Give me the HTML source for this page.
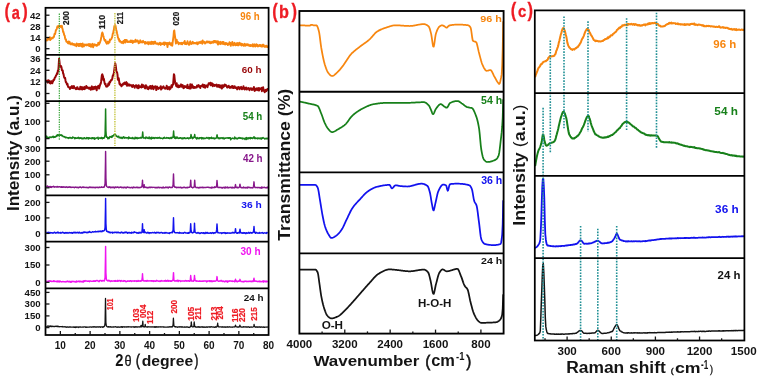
<!DOCTYPE html>
<html><head><meta charset="utf-8"><style>html,body{margin:0;padding:0;background:#fff;}svg{display:block;will-change:transform;}text{font-family:"Liberation Sans",sans-serif;}</style></head><body>
<svg width="759" height="376" viewBox="0 0 759 376" font-family="Liberation Sans, sans-serif">
<rect width="759" height="376" fill="#fff"/>
<g fill="none" stroke-linejoin="round">
<path d="M46.30,39.45 L46.70,40.54 L47.10,40.37 L47.50,38.84 L47.90,38.96 L48.30,38.70 L48.70,39.57 L49.10,38.96 L49.50,39.56 L49.90,37.26 L50.30,40.05 L50.70,38.52 L51.10,39.05 L51.50,38.20 L51.90,37.82 L52.30,38.34 L52.70,38.41 L53.10,37.26 L53.50,36.98 L53.90,37.09 L54.30,34.92 L54.70,33.42 L55.10,34.11 L55.50,32.19 L55.90,30.03 L56.30,29.86 L56.70,29.10 L57.10,27.56 L57.50,26.33 L57.90,26.82 L58.30,27.23 L58.70,26.16 L59.10,25.64 L59.50,26.55 L59.90,26.81 L60.30,25.95 L60.70,26.69 L61.10,27.15 L61.50,26.16 L61.90,25.80 L62.30,28.04 L62.70,29.47 L63.10,32.01 L63.50,31.89 L63.90,34.10 L64.30,35.23 L64.70,35.63 L65.10,38.26 L65.50,39.51 L65.90,39.20 L66.30,41.65 L66.70,41.75 L67.10,42.10 L67.50,42.34 L67.90,43.15 L68.30,41.45 L68.70,43.33 L69.10,43.53 L69.50,41.70 L69.90,43.67 L70.30,43.32 L70.70,44.33 L71.10,43.41 L71.50,43.87 L71.90,44.27 L72.30,43.32 L72.70,44.65 L73.10,44.13 L73.50,44.71 L73.90,43.92 L74.30,45.35 L74.70,45.01 L75.10,44.40 L75.50,45.15 L75.90,45.74 L76.30,46.24 L76.70,43.43 L77.10,45.56 L77.50,45.25 L77.90,44.81 L78.30,44.07 L78.70,46.02 L79.10,43.90 L79.50,45.47 L79.90,46.10 L80.30,43.65 L80.70,44.76 L81.10,43.91 L81.50,45.23 L81.90,46.32 L82.30,46.76 L82.70,43.53 L83.10,44.56 L83.50,45.65 L83.90,46.40 L84.30,45.42 L84.70,44.44 L85.10,45.33 L85.50,45.06 L85.90,44.91 L86.30,44.46 L86.70,45.42 L87.10,45.35 L87.50,45.01 L87.90,44.91 L88.30,44.00 L88.70,44.68 L89.10,46.12 L89.50,44.94 L89.90,43.88 L90.30,46.23 L90.70,45.55 L91.10,46.89 L91.50,45.15 L91.90,44.70 L92.30,43.85 L92.70,46.20 L93.10,47.25 L93.50,44.36 L93.90,44.49 L94.30,45.54 L94.70,44.31 L95.10,44.77 L95.50,44.68 L95.90,45.13 L96.30,45.87 L96.70,44.94 L97.10,45.67 L97.50,44.47 L97.90,44.98 L98.30,42.70 L98.70,43.04 L99.10,44.65 L99.50,42.99 L99.90,42.82 L100.30,41.28 L100.70,40.44 L101.10,38.07 L101.50,36.21 L101.90,33.65 L102.30,32.51 L102.70,33.31 L103.10,35.28 L103.50,36.34 L103.90,38.00 L104.30,39.48 L104.70,40.70 L105.10,40.85 L105.50,40.06 L105.90,42.13 L106.30,42.78 L106.70,43.76 L107.10,43.38 L107.50,42.09 L107.90,41.58 L108.30,43.42 L108.70,41.96 L109.10,42.52 L109.50,42.42 L109.90,39.51 L110.30,40.10 L110.70,39.70 L111.10,39.29 L111.50,38.68 L111.90,37.67 L112.30,36.67 L112.70,33.83 L113.10,33.29 L113.50,31.06 L113.90,29.59 L114.30,26.49 L114.70,25.39 L115.10,25.05 L115.50,25.77 L115.90,27.84 L116.30,29.91 L116.70,31.32 L117.10,33.47 L117.50,35.04 L117.90,37.32 L118.30,38.16 L118.70,39.69 L119.10,38.99 L119.50,41.62 L119.90,40.76 L120.30,41.13 L120.70,41.90 L121.10,41.85 L121.50,42.76 L121.90,42.11 L122.30,41.65 L122.70,41.69 L123.10,43.29 L123.50,41.94 L123.90,40.63 L124.30,41.40 L124.70,39.92 L125.10,42.72 L125.50,39.91 L125.90,41.61 L126.30,41.67 L126.70,39.99 L127.10,41.48 L127.50,42.09 L127.90,41.65 L128.30,41.49 L128.70,42.09 L129.10,41.43 L129.50,41.60 L129.90,41.22 L130.30,41.89 L130.70,40.57 L131.10,42.06 L131.50,40.98 L131.90,40.51 L132.30,41.77 L132.70,42.92 L133.10,42.32 L133.50,41.08 L133.90,42.14 L134.30,41.18 L134.70,41.48 L135.10,41.68 L135.50,39.66 L135.90,41.81 L136.30,40.79 L136.70,41.10 L137.10,40.46 L137.50,40.45 L137.90,40.96 L138.30,42.49 L138.70,43.23 L139.10,41.82 L139.50,42.80 L139.90,41.68 L140.30,40.30 L140.70,42.09 L141.10,42.37 L141.50,41.65 L141.90,42.30 L142.30,42.56 L142.70,41.37 L143.10,40.88 L143.50,41.98 L143.90,42.02 L144.30,41.93 L144.70,43.11 L145.10,43.77 L145.50,41.98 L145.90,42.96 L146.30,43.20 L146.70,43.04 L147.10,43.35 L147.50,42.16 L147.90,43.16 L148.30,44.28 L148.70,43.28 L149.10,42.10 L149.50,43.18 L149.90,43.76 L150.30,43.04 L150.70,42.28 L151.10,44.11 L151.50,41.77 L151.90,43.30 L152.30,42.90 L152.70,41.93 L153.10,44.03 L153.50,43.33 L153.90,42.08 L154.30,43.62 L154.70,42.79 L155.10,41.58 L155.50,42.65 L155.90,43.50 L156.30,43.85 L156.70,43.49 L157.10,43.42 L157.50,43.82 L157.90,43.27 L158.30,44.49 L158.70,43.64 L159.10,43.79 L159.50,44.03 L159.90,42.70 L160.30,43.01 L160.70,44.94 L161.10,43.95 L161.50,43.44 L161.90,44.00 L162.30,43.32 L162.70,43.99 L163.10,43.21 L163.50,44.03 L163.90,42.47 L164.30,44.97 L164.70,43.42 L165.10,42.53 L165.50,43.70 L165.90,43.59 L166.30,44.05 L166.70,42.97 L167.10,44.29 L167.50,47.04 L167.90,42.89 L168.30,44.27 L168.70,43.73 L169.10,44.16 L169.50,42.46 L169.90,43.02 L170.30,44.38 L170.70,43.91 L171.10,45.24 L171.50,43.11 L171.90,43.65 L172.30,45.72 L172.70,42.12 L173.10,39.05 L173.50,36.01 L173.90,31.25 L174.30,30.47 L174.70,34.02 L175.10,36.97 L175.50,40.08 L175.90,43.59 L176.30,42.85 L176.70,39.68 L177.10,42.12 L177.50,41.63 L177.90,43.01 L178.30,42.41 L178.70,44.28 L179.10,43.51 L179.50,43.55 L179.90,43.02 L180.30,42.89 L180.70,43.27 L181.10,44.14 L181.50,43.54 L181.90,42.83 L182.30,44.25 L182.70,43.37 L183.10,43.17 L183.50,42.59 L183.90,42.80 L184.30,42.75 L184.70,40.92 L185.10,44.16 L185.50,43.78 L185.90,43.11 L186.30,44.18 L186.70,43.66 L187.10,43.60 L187.50,41.17 L187.90,43.07 L188.30,43.71 L188.70,44.61 L189.10,44.80 L189.50,44.43 L189.90,42.22 L190.30,41.33 L190.70,43.66 L191.10,43.19 L191.50,43.97 L191.90,43.03 L192.30,43.30 L192.70,41.82 L193.10,43.46 L193.50,42.69 L193.90,43.35 L194.30,43.42 L194.70,42.91 L195.10,43.26 L195.50,42.96 L195.90,43.60 L196.30,43.35 L196.70,42.43 L197.10,42.37 L197.50,44.32 L197.90,42.71 L198.30,43.60 L198.70,43.06 L199.10,42.21 L199.50,42.01 L199.90,42.71 L200.30,42.79 L200.70,43.05 L201.10,41.41 L201.50,41.95 L201.90,42.33 L202.30,43.74 L202.70,40.34 L203.10,42.69 L203.50,41.83 L203.90,42.62 L204.30,41.82 L204.70,42.52 L205.10,43.53 L205.50,42.48 L205.90,42.53 L206.30,42.46 L206.70,41.49 L207.10,42.58 L207.50,41.92 L207.90,41.39 L208.30,42.04 L208.70,41.86 L209.10,42.69 L209.50,42.00 L209.90,41.58 L210.30,43.25 L210.70,42.85 L211.10,43.08 L211.50,42.52 L211.90,41.91 L212.30,41.65 L212.70,41.78 L213.10,42.84 L213.50,42.17 L213.90,40.85 L214.30,42.12 L214.70,41.00 L215.10,42.40 L215.50,41.30 L215.90,41.31 L216.30,42.55 L216.70,42.45 L217.10,41.17 L217.50,43.29 L217.90,44.56 L218.30,41.52 L218.70,44.39 L219.10,42.31 L219.50,42.53 L219.90,42.84 L220.30,41.80 L220.70,44.17 L221.10,43.52 L221.50,42.50 L221.90,42.94 L222.30,41.92 L222.70,42.95 L223.10,44.08 L223.50,41.86 L223.90,42.98 L224.30,43.51 L224.70,44.31 L225.10,44.60 L225.50,43.09 L225.90,42.88 L226.30,43.93 L226.70,43.27 L227.10,43.34 L227.50,44.55 L227.90,45.10 L228.30,43.92 L228.70,43.56 L229.10,44.24 L229.50,42.18 L229.90,43.79 L230.30,42.94 L230.70,45.90 L231.10,44.51 L231.50,44.04 L231.90,43.78 L232.30,41.84 L232.70,44.61 L233.10,45.42 L233.50,43.44 L233.90,44.67 L234.30,44.73 L234.70,42.82 L235.10,44.96 L235.50,45.34 L235.90,44.41 L236.30,44.19 L236.70,44.94 L237.10,42.99 L237.50,44.41 L237.90,45.25 L238.30,43.33 L238.70,45.25 L239.10,44.08 L239.50,42.70 L239.90,44.40 L240.30,43.70 L240.70,44.82 L241.10,43.58 L241.50,45.50 L241.90,44.01 L242.30,44.97 L242.70,44.19 L243.10,44.45 L243.50,45.77 L243.90,44.96 L244.30,44.48 L244.70,43.78 L245.10,45.86 L245.50,45.52 L245.90,44.65 L246.30,45.16 L246.70,44.11 L247.10,44.15 L247.50,44.34 L247.90,45.37 L248.30,45.35 L248.70,44.49 L249.10,45.78 L249.50,45.85 L249.90,45.35 L250.30,46.11 L250.70,45.01 L251.10,45.19 L251.50,45.71 L251.90,45.30 L252.30,46.03 L252.70,44.31 L253.10,46.61 L253.50,44.76 L253.90,45.30 L254.30,44.29 L254.70,46.00 L255.10,46.59 L255.50,46.43 L255.90,46.25 L256.30,44.24 L256.70,44.92 L257.10,45.21 L257.50,44.82 L257.90,46.59 L258.30,45.81 L258.70,45.65 L259.10,46.10 L259.50,44.90 L259.90,44.95 L260.30,44.99 L260.70,46.18 L261.10,46.06 L261.50,46.28 L261.90,46.72 L262.30,44.66 L262.70,45.36 L263.10,45.97 L263.50,44.72 L263.90,45.42 L264.30,46.75 L264.70,46.84 L265.10,46.83 L265.50,45.97 L265.90,45.76 L266.30,46.87 L266.70,45.65 L267.10,46.26 L267.50,47.11 L267.90,45.69" stroke="#f7860f" stroke-width="1.9"/>
<path d="M46.30,79.86 L46.70,81.24 L47.10,81.28 L47.50,81.56 L47.90,82.67 L48.30,80.24 L48.70,81.02 L49.10,80.60 L49.50,81.99 L49.90,83.33 L50.30,82.68 L50.70,83.40 L51.10,81.17 L51.50,82.86 L51.90,81.35 L52.30,83.25 L52.70,81.75 L53.10,81.27 L53.50,79.83 L53.90,80.00 L54.30,79.56 L54.70,78.08 L55.10,77.34 L55.50,77.02 L55.90,75.79 L56.30,74.97 L56.70,74.40 L57.10,73.09 L57.50,73.67 L57.90,70.43 L58.30,71.17 L58.70,65.22 L59.10,58.68 L59.50,61.93 L59.90,66.31 L60.30,66.56 L60.70,66.82 L61.10,66.12 L61.50,67.44 L61.90,70.20 L62.30,70.02 L62.70,70.50 L63.10,73.48 L63.50,73.95 L63.90,76.15 L64.30,77.72 L64.70,78.21 L65.10,77.92 L65.50,80.43 L65.90,82.21 L66.30,82.15 L66.70,83.64 L67.10,84.77 L67.50,83.89 L67.90,86.12 L68.30,87.00 L68.70,86.94 L69.10,87.41 L69.50,87.67 L69.90,89.00 L70.30,87.18 L70.70,87.15 L71.10,87.84 L71.50,86.51 L71.90,86.00 L72.30,86.72 L72.70,88.00 L73.10,88.16 L73.50,86.32 L73.90,86.05 L74.30,87.60 L74.70,87.78 L75.10,87.97 L75.50,88.71 L75.90,89.29 L76.30,88.40 L76.70,88.82 L77.10,87.25 L77.50,87.22 L77.90,88.60 L78.30,89.05 L78.70,89.14 L79.10,89.04 L79.50,89.24 L79.90,89.27 L80.30,86.83 L80.70,87.79 L81.10,88.91 L81.50,89.02 L81.90,87.00 L82.30,89.52 L82.70,87.96 L83.10,88.12 L83.50,88.56 L83.90,88.98 L84.30,86.86 L84.70,89.12 L85.10,88.21 L85.50,87.36 L85.90,87.79 L86.30,85.94 L86.70,87.36 L87.10,88.11 L87.50,87.24 L87.90,87.57 L88.30,87.71 L88.70,87.88 L89.10,88.79 L89.50,87.78 L89.90,87.55 L90.30,88.31 L90.70,89.78 L91.10,87.50 L91.50,88.33 L91.90,86.37 L92.30,89.17 L92.70,88.54 L93.10,89.20 L93.50,87.90 L93.90,86.98 L94.30,88.83 L94.70,88.71 L95.10,87.18 L95.50,86.58 L95.90,88.37 L96.30,87.72 L96.70,90.28 L97.10,87.12 L97.50,87.08 L97.90,87.34 L98.30,85.72 L98.70,86.29 L99.10,88.51 L99.50,86.52 L99.90,85.58 L100.30,83.91 L100.70,83.73 L101.10,81.68 L101.50,78.43 L101.90,75.00 L102.30,74.39 L102.70,75.53 L103.10,76.78 L103.50,80.09 L103.90,79.04 L104.30,81.31 L104.70,83.44 L105.10,84.33 L105.50,83.81 L105.90,85.65 L106.30,86.66 L106.70,86.28 L107.10,86.10 L107.50,86.45 L107.90,85.61 L108.30,83.59 L108.70,83.90 L109.10,84.81 L109.50,82.04 L109.90,82.70 L110.30,81.77 L110.70,80.72 L111.10,79.97 L111.50,80.29 L111.90,79.66 L112.30,78.69 L112.70,75.90 L113.10,75.66 L113.50,74.43 L113.90,72.70 L114.30,69.82 L114.70,66.71 L115.10,63.18 L115.50,64.41 L115.90,67.23 L116.30,70.70 L116.70,72.11 L117.10,72.39 L117.50,74.70 L117.90,79.77 L118.30,78.05 L118.70,78.17 L119.10,80.81 L119.50,83.92 L119.90,83.54 L120.30,84.91 L120.70,84.89 L121.10,85.21 L121.50,86.29 L121.90,85.46 L122.30,84.18 L122.70,84.73 L123.10,84.68 L123.50,83.31 L123.90,83.64 L124.30,83.52 L124.70,82.58 L125.10,84.30 L125.50,83.14 L125.90,82.90 L126.30,82.16 L126.70,82.84 L127.10,85.78 L127.50,83.50 L127.90,85.18 L128.30,84.53 L128.70,85.47 L129.10,85.65 L129.50,84.43 L129.90,84.98 L130.30,85.43 L130.70,85.51 L131.10,85.45 L131.50,85.24 L131.90,86.20 L132.30,86.91 L132.70,86.23 L133.10,85.06 L133.50,86.19 L133.90,85.93 L134.30,86.35 L134.70,87.72 L135.10,85.81 L135.50,86.05 L135.90,85.26 L136.30,85.88 L136.70,85.66 L137.10,87.77 L137.50,86.58 L137.90,85.80 L138.30,88.22 L138.70,85.17 L139.10,87.29 L139.50,87.48 L139.90,87.10 L140.30,86.35 L140.70,86.52 L141.10,86.35 L141.50,87.47 L141.90,84.55 L142.30,86.31 L142.70,86.98 L143.10,86.32 L143.50,85.18 L143.90,86.71 L144.30,86.25 L144.70,87.76 L145.10,88.36 L145.50,87.13 L145.90,85.25 L146.30,86.93 L146.70,86.26 L147.10,87.81 L147.50,88.80 L147.90,87.51 L148.30,89.16 L148.70,88.69 L149.10,87.93 L149.50,86.47 L149.90,87.50 L150.30,86.04 L150.70,88.42 L151.10,87.56 L151.50,88.77 L151.90,87.76 L152.30,85.66 L152.70,88.13 L153.10,88.42 L153.50,89.13 L153.90,86.64 L154.30,86.69 L154.70,87.64 L155.10,86.59 L155.50,86.29 L155.90,86.57 L156.30,90.08 L156.70,87.02 L157.10,86.66 L157.50,87.20 L157.90,87.63 L158.30,88.86 L158.70,88.53 L159.10,88.39 L159.50,87.69 L159.90,87.80 L160.30,87.05 L160.70,86.23 L161.10,89.61 L161.50,87.24 L161.90,88.64 L162.30,87.38 L162.70,87.60 L163.10,87.54 L163.50,86.38 L163.90,87.61 L164.30,88.05 L164.70,88.48 L165.10,88.16 L165.50,88.66 L165.90,87.96 L166.30,87.67 L166.70,85.80 L167.10,87.15 L167.50,89.12 L167.90,87.75 L168.30,88.37 L168.70,87.39 L169.10,86.92 L169.50,89.47 L169.90,87.83 L170.30,88.87 L170.70,87.91 L171.10,87.07 L171.50,85.15 L171.90,87.30 L172.30,85.65 L172.70,84.76 L173.10,84.62 L173.50,79.57 L173.90,74.25 L174.30,75.07 L174.70,79.31 L175.10,82.17 L175.50,83.88 L175.90,85.01 L176.30,86.04 L176.70,83.28 L177.10,86.66 L177.50,85.36 L177.90,86.87 L178.30,87.24 L178.70,85.38 L179.10,87.00 L179.50,87.04 L179.90,85.67 L180.30,85.89 L180.70,86.55 L181.10,84.37 L181.50,86.10 L181.90,86.75 L182.30,86.19 L182.70,85.13 L183.10,86.32 L183.50,88.17 L183.90,88.02 L184.30,86.68 L184.70,86.05 L185.10,86.83 L185.50,86.89 L185.90,86.25 L186.30,86.60 L186.70,87.53 L187.10,87.84 L187.50,84.64 L187.90,87.90 L188.30,87.11 L188.70,88.09 L189.10,86.98 L189.50,87.42 L189.90,88.56 L190.30,84.18 L190.70,88.51 L191.10,87.18 L191.50,85.26 L191.90,84.45 L192.30,87.27 L192.70,85.99 L193.10,87.91 L193.50,87.15 L193.90,86.81 L194.30,87.86 L194.70,87.08 L195.10,87.59 L195.50,87.65 L195.90,87.15 L196.30,87.57 L196.70,87.55 L197.10,85.47 L197.50,86.49 L197.90,86.60 L198.30,86.33 L198.70,85.15 L199.10,86.09 L199.50,86.91 L199.90,86.74 L200.30,87.97 L200.70,85.91 L201.10,86.03 L201.50,85.86 L201.90,86.06 L202.30,85.75 L202.70,84.50 L203.10,86.56 L203.50,87.13 L203.90,87.20 L204.30,85.06 L204.70,85.86 L205.10,87.74 L205.50,85.79 L205.90,86.08 L206.30,85.43 L206.70,86.32 L207.10,86.07 L207.50,87.13 L207.90,85.17 L208.30,84.91 L208.70,83.15 L209.10,83.76 L209.50,83.38 L209.90,83.69 L210.30,82.77 L210.70,85.22 L211.10,83.15 L211.50,84.53 L211.90,83.21 L212.30,84.90 L212.70,86.31 L213.10,84.12 L213.50,85.40 L213.90,85.14 L214.30,85.60 L214.70,85.84 L215.10,84.91 L215.50,85.41 L215.90,85.08 L216.30,84.92 L216.70,84.59 L217.10,86.73 L217.50,85.16 L217.90,86.55 L218.30,86.49 L218.70,85.06 L219.10,87.05 L219.50,85.29 L219.90,86.74 L220.30,87.57 L220.70,85.55 L221.10,85.38 L221.50,85.41 L221.90,88.52 L222.30,86.02 L222.70,85.21 L223.10,87.22 L223.50,86.31 L223.90,86.48 L224.30,85.59 L224.70,84.46 L225.10,85.91 L225.50,85.64 L225.90,85.12 L226.30,85.66 L226.70,85.82 L227.10,87.52 L227.50,87.46 L227.90,87.31 L228.30,86.34 L228.70,85.68 L229.10,87.20 L229.50,87.38 L229.90,87.93 L230.30,86.99 L230.70,86.93 L231.10,87.38 L231.50,86.24 L231.90,86.39 L232.30,87.79 L232.70,86.02 L233.10,87.17 L233.50,88.02 L233.90,87.54 L234.30,87.75 L234.70,86.32 L235.10,87.29 L235.50,87.18 L235.90,88.05 L236.30,87.90 L236.70,87.57 L237.10,89.38 L237.50,88.12 L237.90,87.36 L238.30,87.08 L238.70,87.66 L239.10,87.19 L239.50,89.31 L239.90,88.33 L240.30,87.53 L240.70,87.23 L241.10,86.86 L241.50,87.65 L241.90,89.19 L242.30,88.77 L242.70,87.95 L243.10,88.16 L243.50,86.29 L243.90,88.81 L244.30,87.91 L244.70,89.45 L245.10,88.01 L245.50,87.74 L245.90,88.44 L246.30,87.66 L246.70,89.57 L247.10,88.60 L247.50,88.70 L247.90,88.70 L248.30,88.08 L248.70,88.90 L249.10,88.64 L249.50,90.17 L249.90,88.60 L250.30,88.92 L250.70,88.17 L251.10,88.28 L251.50,88.38 L251.90,89.93 L252.30,88.81 L252.70,89.69 L253.10,88.55 L253.50,88.49 L253.90,87.04 L254.30,89.68 L254.70,90.89 L255.10,88.74 L255.50,90.35 L255.90,89.83 L256.30,88.40 L256.70,89.81 L257.10,88.26 L257.50,88.86 L257.90,90.33 L258.30,89.35 L258.70,88.12 L259.10,90.60 L259.50,88.24 L259.90,89.16 L260.30,89.02 L260.70,89.22 L261.10,88.59 L261.50,87.88 L261.90,91.22 L262.30,88.59 L262.70,88.68 L263.10,87.23 L263.50,89.66 L263.90,90.83 L264.30,90.96 L264.70,92.28 L265.10,91.11 L265.50,90.11 L265.90,89.77 L266.30,91.14 L266.70,89.77 L267.10,90.02 L267.50,88.96 L267.90,89.99" stroke="#980608" stroke-width="2.0"/>
<path d="M46.30,138.08 L46.70,136.12 L47.10,137.73 L47.50,137.36 L47.90,137.86 L48.30,137.47 L48.70,138.04 L49.10,137.30 L49.50,137.07 L49.90,137.49 L50.30,137.40 L50.70,137.06 L51.10,137.07 L51.50,137.42 L51.90,137.37 L52.30,136.85 L52.70,136.84 L53.10,136.20 L53.50,137.52 L53.90,136.67 L54.30,137.20 L54.70,136.72 L55.10,137.21 L55.50,136.90 L55.90,136.26 L56.30,136.55 L56.70,135.39 L57.10,136.08 L57.50,134.79 L57.90,135.33 L58.30,135.45 L58.70,134.99 L59.10,134.67 L59.50,134.79 L59.50,134.79 L59.90,135.26 L60.30,135.29 L60.70,134.98 L61.10,134.78 L61.50,135.75 L61.90,135.12 L62.30,135.70 L62.70,135.83 L63.10,136.61 L63.50,136.58 L63.90,136.83 L64.30,136.90 L64.70,136.65 L65.10,137.26 L65.50,137.71 L65.90,137.23 L66.30,137.58 L66.70,137.35 L67.10,137.88 L67.50,137.80 L67.90,137.93 L68.30,137.77 L68.70,138.34 L69.10,137.58 L69.50,137.63 L69.90,137.56 L70.30,138.07 L70.70,137.61 L71.10,137.63 L71.50,138.20 L71.90,138.40 L72.30,138.18 L72.70,136.90 L73.10,137.61 L73.50,137.58 L73.90,137.54 L74.30,137.88 L74.70,138.78 L75.10,137.95 L75.50,137.79 L75.90,138.37 L76.30,138.13 L76.70,138.16 L77.10,137.85 L77.50,138.13 L77.90,138.31 L78.30,137.38 L78.70,137.51 L79.10,138.59 L79.50,138.50 L79.90,137.96 L80.30,137.76 L80.70,138.10 L81.10,137.70 L81.50,138.04 L81.90,138.84 L82.30,138.24 L82.70,138.65 L83.10,138.10 L83.50,138.34 L83.90,138.74 L84.30,137.66 L84.70,138.05 L85.10,138.13 L85.50,138.31 L85.90,138.82 L86.30,138.47 L86.70,137.60 L87.10,138.09 L87.50,137.84 L87.90,137.83 L88.30,139.00 L88.70,137.77 L89.10,138.29 L89.50,137.91 L89.90,138.53 L90.30,138.33 L90.70,138.24 L91.10,138.16 L91.50,138.64 L91.90,137.81 L92.30,137.89 L92.70,137.73 L93.10,138.71 L93.50,138.05 L93.90,137.75 L94.30,138.00 L94.70,139.16 L95.10,138.12 L95.50,138.49 L95.90,138.34 L96.30,138.14 L96.70,137.86 L97.10,138.00 L97.50,137.99 L97.90,137.24 L98.30,139.15 L98.70,138.48 L99.10,138.15 L99.50,138.01 L99.90,137.77 L100.30,138.45 L100.70,137.99 L101.10,138.24 L101.50,137.47 L101.90,138.16 L102.30,138.78 L102.70,137.83 L103.10,138.21 L103.50,137.83 L103.90,138.13 L104.30,137.87 L104.70,136.87 L105.10,134.47 L105.50,116.79 L105.60,108.96 L105.90,130.44 L106.30,136.28 L106.70,137.28 L107.10,137.08 L107.50,137.53 L107.90,138.79 L108.30,137.96 L108.70,137.66 L109.10,138.59 L109.50,137.35 L109.90,136.48 L110.30,136.62 L110.70,136.67 L111.10,137.25 L111.50,137.37 L111.90,135.91 L112.30,136.97 L112.70,135.71 L113.10,135.93 L113.50,135.57 L113.90,135.09 L114.30,134.49 L114.70,134.26 L115.00,134.11 L115.10,134.23 L115.50,134.70 L115.90,135.06 L116.30,136.19 L116.70,136.04 L117.10,136.31 L117.50,137.03 L117.90,136.74 L118.30,136.36 L118.70,136.16 L119.10,137.72 L119.50,137.56 L119.90,137.77 L120.30,137.38 L120.70,137.72 L121.10,138.39 L121.50,137.82 L121.90,137.28 L122.30,137.59 L122.70,138.35 L123.10,137.38 L123.50,136.81 L123.90,136.94 L124.30,137.34 L124.70,138.21 L125.10,137.94 L125.50,137.62 L125.90,137.42 L126.30,137.90 L126.70,137.89 L127.10,137.73 L127.50,137.87 L127.90,137.67 L128.30,138.70 L128.70,137.04 L129.10,138.04 L129.50,137.59 L129.90,138.28 L130.30,137.91 L130.70,138.16 L131.10,138.23 L131.50,138.10 L131.90,138.42 L132.30,137.47 L132.70,138.41 L133.10,137.94 L133.50,138.18 L133.90,138.66 L134.30,138.48 L134.70,138.83 L135.10,137.14 L135.50,137.66 L135.90,138.43 L136.30,137.59 L136.70,137.97 L137.10,138.73 L137.50,138.39 L137.90,137.66 L138.30,138.22 L138.70,138.30 L139.10,138.07 L139.50,138.00 L139.90,138.09 L140.30,137.42 L140.70,138.05 L141.10,137.58 L141.50,138.06 L141.90,137.88 L142.30,136.51 L142.70,132.07 L142.70,132.07 L143.10,136.85 L143.50,138.01 L143.90,137.78 L144.30,137.86 L144.70,138.04 L145.10,138.01 L145.50,138.50 L145.90,137.10 L146.30,137.93 L146.70,137.25 L147.10,137.85 L147.50,138.16 L147.90,138.06 L148.30,138.44 L148.70,138.18 L149.10,136.96 L149.50,137.61 L149.90,138.68 L150.30,138.68 L150.70,138.10 L151.10,137.43 L151.50,138.92 L151.90,137.22 L152.30,138.18 L152.70,138.03 L153.10,138.15 L153.50,137.58 L153.90,137.89 L154.30,138.48 L154.70,137.85 L155.10,137.50 L155.50,138.04 L155.90,138.08 L156.30,137.99 L156.70,137.73 L157.10,138.26 L157.50,138.00 L157.90,137.58 L158.30,138.14 L158.70,138.04 L159.10,138.11 L159.50,137.37 L159.90,137.74 L160.30,138.23 L160.70,138.43 L161.10,138.19 L161.50,138.12 L161.90,138.35 L162.30,138.45 L162.70,138.77 L163.10,138.25 L163.50,137.84 L163.90,138.26 L164.30,137.29 L164.70,138.09 L165.10,137.90 L165.50,138.07 L165.90,138.27 L166.30,138.10 L166.70,137.50 L167.10,137.93 L167.50,137.76 L167.90,138.07 L168.30,138.22 L168.70,137.69 L169.10,138.37 L169.50,138.59 L169.90,137.96 L170.30,138.35 L170.70,137.46 L171.10,137.82 L171.50,138.40 L171.90,137.27 L172.30,137.69 L172.70,137.33 L173.10,137.38 L173.50,132.71 L173.60,131.10 L173.90,135.63 L174.30,136.40 L174.70,138.16 L175.10,138.08 L175.50,138.53 L175.90,137.08 L176.30,138.19 L176.70,137.92 L177.10,137.03 L177.50,137.80 L177.90,138.05 L178.30,138.41 L178.70,138.17 L179.10,137.88 L179.50,138.27 L179.90,138.05 L180.30,137.83 L180.70,137.69 L181.10,138.16 L181.50,138.16 L181.90,138.83 L182.30,137.92 L182.70,138.74 L183.10,138.24 L183.50,138.57 L183.90,137.74 L184.30,137.75 L184.70,137.98 L185.10,138.46 L185.50,138.17 L185.90,138.40 L186.30,138.23 L186.70,138.51 L187.10,138.18 L187.50,137.89 L187.90,138.30 L188.30,138.13 L188.70,138.78 L189.10,138.01 L189.50,138.09 L189.90,137.88 L190.30,138.31 L190.70,137.38 L191.00,134.61 L191.10,134.81 L191.50,137.02 L191.90,138.04 L192.30,138.30 L192.70,138.63 L193.10,137.32 L193.50,137.94 L193.90,137.22 L194.30,137.03 L194.70,134.61 L194.70,134.61 L195.10,137.21 L195.50,137.62 L195.90,137.90 L196.30,138.57 L196.70,139.05 L197.10,137.48 L197.50,138.00 L197.90,137.94 L198.30,138.58 L198.70,138.29 L199.10,138.74 L199.50,137.72 L199.90,138.13 L200.30,137.94 L200.70,137.69 L201.10,138.07 L201.50,137.66 L201.90,139.00 L202.30,138.30 L202.70,137.73 L203.10,137.89 L203.50,138.83 L203.90,137.95 L204.30,138.41 L204.70,138.37 L205.10,138.58 L205.50,138.39 L205.90,138.06 L206.30,137.90 L206.70,137.43 L207.10,138.12 L207.50,138.20 L207.90,138.00 L208.30,138.09 L208.70,137.66 L209.10,139.01 L209.50,137.95 L209.90,137.73 L210.30,137.91 L210.70,138.08 L211.10,138.44 L211.50,137.18 L211.90,138.35 L212.30,137.90 L212.70,138.07 L213.10,138.55 L213.50,138.44 L213.90,137.86 L214.30,138.09 L214.70,138.86 L215.10,138.63 L215.50,138.39 L215.90,137.95 L216.30,138.06 L216.70,136.73 L217.00,134.97 L217.10,134.89 L217.50,137.54 L217.90,138.01 L218.30,138.50 L218.70,137.89 L219.10,138.67 L219.50,137.99 L219.90,138.65 L220.30,138.37 L220.70,137.93 L221.10,137.79 L221.50,138.12 L221.90,138.07 L222.30,138.55 L222.70,137.90 L223.10,137.59 L223.50,138.18 L223.90,138.95 L224.30,138.84 L224.70,137.94 L225.10,138.08 L225.50,138.32 L225.90,137.93 L226.30,138.10 L226.70,138.09 L227.10,137.78 L227.50,137.95 L227.90,138.01 L228.30,138.30 L228.70,137.73 L229.10,138.25 L229.50,137.82 L229.90,137.89 L230.30,137.76 L230.70,139.82 L231.10,138.72 L231.50,138.75 L231.90,138.54 L232.30,138.12 L232.70,138.25 L233.10,138.34 L233.50,138.40 L233.90,138.46 L234.30,138.84 L234.70,137.04 L235.10,138.01 L235.50,138.50 L235.90,138.09 L236.30,138.17 L236.70,138.83 L237.10,138.31 L237.50,138.95 L237.90,138.22 L238.30,138.34 L238.70,137.82 L239.10,137.45 L239.50,138.08 L239.90,138.27 L240.30,138.11 L240.70,137.71 L241.10,138.52 L241.50,138.28 L241.90,138.26 L242.30,137.95 L242.70,138.92 L243.10,138.85 L243.50,138.39 L243.90,138.22 L244.30,138.37 L244.70,138.95 L245.10,139.39 L245.50,138.28 L245.90,138.10 L246.30,137.55 L246.70,139.40 L247.10,137.84 L247.50,138.63 L247.90,138.48 L248.30,138.82 L248.70,137.94 L249.10,137.64 L249.50,138.35 L249.90,138.45 L250.30,138.75 L250.70,137.61 L251.10,138.11 L251.50,138.18 L251.90,137.74 L252.30,138.21 L252.70,138.57 L253.10,138.18 L253.50,137.42 L253.90,137.07 L254.00,136.71 L254.30,137.88 L254.70,138.45 L255.10,137.58 L255.50,138.47 L255.90,138.54 L256.30,138.16 L256.70,138.29 L257.10,138.01 L257.50,138.82 L257.90,138.21 L258.30,137.96 L258.70,138.41 L259.10,138.39 L259.50,138.61 L259.90,138.01 L260.30,138.08 L260.70,138.50 L261.10,139.25 L261.50,138.54 L261.90,137.81 L262.30,138.43 L262.70,138.05 L263.10,137.63 L263.50,138.10 L263.90,138.14 L264.30,138.54 L264.70,138.91 L265.10,138.84 L265.50,138.71 L265.90,138.21 L266.30,138.45 L266.70,138.37 L267.10,138.96 L267.50,138.13 L267.90,138.18" stroke="#17801a" stroke-width="1.5"/>
<path d="M46.30,186.79 L46.70,186.38 L47.10,186.24 L47.50,185.91 L47.90,186.56 L48.30,186.97 L48.70,186.67 L49.10,186.80 L49.50,186.93 L49.90,186.46 L50.30,187.36 L50.70,186.48 L51.10,186.80 L51.50,187.40 L51.90,186.70 L52.30,186.76 L52.70,186.61 L53.10,186.83 L53.50,186.23 L53.90,186.61 L54.30,187.20 L54.70,186.84 L55.10,186.73 L55.50,186.89 L55.90,186.91 L56.30,186.86 L56.70,186.97 L57.10,186.42 L57.50,186.99 L57.90,186.68 L58.30,187.06 L58.70,186.86 L59.10,186.63 L59.50,186.87 L59.90,186.65 L60.30,187.16 L60.70,186.91 L61.10,187.14 L61.50,186.66 L61.90,187.35 L62.30,186.88 L62.70,187.31 L63.10,187.19 L63.50,186.72 L63.90,187.09 L64.30,186.88 L64.70,187.13 L65.10,187.40 L65.50,187.23 L65.90,187.34 L66.30,186.79 L66.70,187.15 L67.10,187.20 L67.50,187.40 L67.90,186.98 L68.30,187.29 L68.70,187.27 L69.10,186.80 L69.50,186.93 L69.90,187.31 L70.30,186.92 L70.70,186.92 L71.10,187.46 L71.50,187.32 L71.90,187.20 L72.30,187.30 L72.70,187.18 L73.10,187.16 L73.50,187.19 L73.90,187.41 L74.30,187.66 L74.70,187.22 L75.10,187.33 L75.50,187.30 L75.90,187.04 L76.30,187.43 L76.70,187.59 L77.10,187.17 L77.50,187.59 L77.90,187.24 L78.30,187.68 L78.70,187.70 L79.10,187.30 L79.50,186.90 L79.90,187.31 L80.30,187.05 L80.70,187.07 L81.10,187.33 L81.50,187.74 L81.90,187.37 L82.30,187.34 L82.70,186.93 L83.10,187.25 L83.50,187.05 L83.90,187.53 L84.30,187.27 L84.70,187.39 L85.10,187.39 L85.50,187.35 L85.90,187.63 L86.30,187.52 L86.70,187.32 L87.10,187.43 L87.50,187.53 L87.90,187.74 L88.30,187.43 L88.70,187.76 L89.10,187.25 L89.50,187.34 L89.90,187.02 L90.30,187.60 L90.70,187.14 L91.10,187.14 L91.50,187.60 L91.90,187.26 L92.30,187.20 L92.70,187.63 L93.10,187.35 L93.50,187.62 L93.90,187.29 L94.30,187.57 L94.70,187.66 L95.10,187.41 L95.50,187.84 L95.90,187.29 L96.30,187.33 L96.70,187.40 L97.10,187.63 L97.50,187.31 L97.90,187.27 L98.30,187.44 L98.70,187.69 L99.10,187.27 L99.50,187.05 L99.90,187.33 L100.30,187.51 L100.70,187.21 L101.10,187.37 L101.50,186.86 L101.90,187.32 L102.30,187.32 L102.70,187.42 L103.10,187.29 L103.50,187.33 L103.90,186.75 L104.30,186.89 L104.70,185.61 L105.10,183.27 L105.50,161.22 L105.60,151.40 L105.90,177.99 L106.30,185.35 L106.70,186.36 L107.10,186.69 L107.50,187.13 L107.90,187.21 L108.30,187.59 L108.70,186.92 L109.10,187.20 L109.50,187.29 L109.90,186.88 L110.30,187.64 L110.70,187.79 L111.10,187.21 L111.50,187.46 L111.90,187.30 L112.30,187.44 L112.70,187.21 L113.10,187.59 L113.50,187.09 L113.90,187.73 L114.30,187.48 L114.70,187.99 L115.10,186.98 L115.50,187.37 L115.90,187.07 L116.30,187.36 L116.70,187.50 L117.10,187.16 L117.50,187.04 L117.90,186.96 L118.30,187.45 L118.70,187.72 L119.10,187.69 L119.50,187.41 L119.90,187.16 L120.30,187.31 L120.70,187.02 L121.10,187.01 L121.50,187.67 L121.90,187.33 L122.30,187.48 L122.70,187.33 L123.10,187.73 L123.50,187.76 L123.90,187.21 L124.30,187.31 L124.70,187.23 L125.10,187.73 L125.50,187.71 L125.90,187.33 L126.30,187.98 L126.70,187.41 L127.10,187.10 L127.50,186.90 L127.90,187.37 L128.30,187.49 L128.70,187.26 L129.10,187.50 L129.50,187.70 L129.90,187.39 L130.30,187.62 L130.70,187.82 L131.10,187.53 L131.50,187.26 L131.90,187.51 L132.30,187.54 L132.70,187.94 L133.10,187.30 L133.50,187.02 L133.90,187.48 L134.30,187.49 L134.70,187.30 L135.10,187.55 L135.50,187.49 L135.90,187.71 L136.30,187.20 L136.70,187.23 L137.10,187.40 L137.50,187.28 L137.90,187.72 L138.30,187.54 L138.70,187.39 L139.10,187.77 L139.50,187.51 L139.90,187.62 L140.30,187.56 L140.70,187.30 L141.10,187.25 L141.50,187.16 L141.90,186.48 L142.30,183.92 L142.50,180.19 L142.70,184.07 L143.10,186.48 L143.50,187.63 L143.90,186.44 L144.20,184.83 L144.30,185.68 L144.70,187.43 L145.10,187.08 L145.50,187.36 L145.90,187.33 L146.30,187.68 L146.70,187.50 L147.10,187.51 L147.50,187.55 L147.90,187.90 L148.30,187.59 L148.70,187.64 L149.10,187.19 L149.50,187.60 L149.90,187.12 L150.30,187.67 L150.70,187.47 L151.10,187.21 L151.50,187.15 L151.90,187.41 L152.30,187.47 L152.70,187.30 L153.10,187.36 L153.50,187.37 L153.90,187.31 L154.30,187.40 L154.70,187.51 L155.10,187.77 L155.50,187.61 L155.90,187.31 L156.30,187.86 L156.70,187.75 L157.10,187.39 L157.50,187.71 L157.90,187.32 L158.30,187.27 L158.70,187.28 L159.10,187.87 L159.50,187.50 L159.90,187.54 L160.30,187.48 L160.70,187.36 L161.10,187.59 L161.50,187.64 L161.90,187.96 L162.30,187.26 L162.70,187.85 L163.10,187.64 L163.50,187.04 L163.90,187.72 L164.30,187.88 L164.70,187.75 L165.10,187.54 L165.50,187.51 L165.90,186.98 L166.30,187.55 L166.70,187.52 L167.10,187.24 L167.50,187.52 L167.90,187.30 L168.30,188.03 L168.70,187.16 L169.10,187.23 L169.50,186.91 L169.90,187.34 L170.30,187.46 L170.70,187.42 L171.10,187.24 L171.50,187.58 L171.90,187.35 L172.30,187.45 L172.70,186.74 L173.10,184.57 L173.50,173.96 L173.50,173.96 L173.90,185.22 L174.30,186.61 L174.70,187.09 L175.10,187.28 L175.50,186.98 L175.90,187.29 L176.30,187.63 L176.70,187.28 L177.10,187.40 L177.50,187.48 L177.90,187.28 L178.30,187.38 L178.70,187.57 L179.10,187.36 L179.50,187.47 L179.90,187.43 L180.30,187.20 L180.70,187.14 L181.10,187.96 L181.50,187.81 L181.90,187.44 L182.30,187.70 L182.70,187.74 L183.10,187.71 L183.50,187.38 L183.90,187.11 L184.30,187.16 L184.70,187.41 L185.10,187.81 L185.50,187.86 L185.90,187.41 L186.30,187.38 L186.70,187.77 L187.10,187.98 L187.50,187.23 L187.90,187.57 L188.30,187.47 L188.70,187.34 L189.10,187.30 L189.50,187.22 L189.90,187.10 L190.30,185.77 L190.70,180.17 L190.70,180.17 L191.10,186.33 L191.50,187.28 L191.90,187.37 L192.30,187.40 L192.70,187.86 L193.10,187.31 L193.50,187.33 L193.90,187.40 L194.30,186.16 L194.70,180.18 L194.70,180.18 L195.10,186.05 L195.50,187.07 L195.90,187.21 L196.30,187.65 L196.70,187.61 L197.10,187.58 L197.50,187.37 L197.90,187.74 L198.30,187.74 L198.70,188.04 L199.10,187.35 L199.50,187.48 L199.90,187.85 L200.30,187.24 L200.70,187.58 L201.10,187.57 L201.50,187.53 L201.90,187.28 L202.30,187.53 L202.70,187.15 L203.10,187.82 L203.50,187.40 L203.90,187.56 L204.30,187.52 L204.70,187.57 L205.10,187.55 L205.50,187.63 L205.90,187.43 L206.30,187.53 L206.70,187.25 L207.10,187.27 L207.50,187.32 L207.90,187.28 L208.30,187.19 L208.70,187.37 L209.10,187.68 L209.50,187.63 L209.90,187.42 L210.30,187.61 L210.70,187.62 L211.10,188.19 L211.50,187.13 L211.90,187.59 L212.30,187.20 L212.70,187.84 L213.10,187.47 L213.50,187.63 L213.90,187.56 L214.30,187.67 L214.70,186.76 L215.10,187.16 L215.50,187.41 L215.90,186.93 L216.30,187.01 L216.70,185.26 L217.00,180.55 L217.10,181.56 L217.50,186.48 L217.90,187.58 L218.30,187.60 L218.70,187.62 L219.10,187.26 L219.50,187.51 L219.90,187.55 L220.30,187.38 L220.70,187.64 L221.10,187.47 L221.50,187.44 L221.90,188.08 L222.30,187.52 L222.70,188.02 L223.10,187.47 L223.50,187.55 L223.90,187.26 L224.30,187.42 L224.70,187.96 L225.10,187.57 L225.50,187.07 L225.90,187.92 L226.30,187.35 L226.70,187.47 L227.10,187.56 L227.50,187.10 L227.90,187.96 L228.30,187.89 L228.70,187.49 L229.10,187.66 L229.50,187.50 L229.90,187.43 L230.30,187.52 L230.70,187.22 L231.10,187.47 L231.50,187.44 L231.90,188.05 L232.30,187.21 L232.70,187.88 L233.10,187.74 L233.50,187.59 L233.90,187.39 L234.30,187.95 L234.70,187.76 L235.10,186.93 L235.50,184.59 L235.50,184.59 L235.90,187.40 L236.30,187.17 L236.70,187.52 L237.10,187.82 L237.50,187.20 L237.90,187.53 L238.30,187.82 L238.70,187.40 L239.10,187.40 L239.50,186.72 L239.90,185.01 L240.00,184.30 L240.30,186.42 L240.70,187.42 L241.10,187.35 L241.50,187.76 L241.90,187.75 L242.30,187.71 L242.70,187.84 L243.10,187.56 L243.50,187.07 L243.90,187.82 L244.30,187.80 L244.70,187.50 L245.10,187.41 L245.50,187.91 L245.90,187.50 L246.30,187.52 L246.70,187.51 L247.10,188.20 L247.50,187.44 L247.90,186.98 L248.30,187.59 L248.70,187.36 L249.10,187.18 L249.50,187.64 L249.90,187.47 L250.30,187.82 L250.70,187.51 L251.10,187.88 L251.50,187.82 L251.90,187.57 L252.30,187.72 L252.70,187.92 L253.10,187.49 L253.50,186.40 L253.90,182.92 L254.00,181.85 L254.30,186.03 L254.70,187.12 L255.10,187.70 L255.50,187.49 L255.90,187.57 L256.30,187.52 L256.70,187.60 L257.10,187.57 L257.50,187.70 L257.90,187.43 L258.30,187.36 L258.70,187.60 L259.10,187.66 L259.50,187.53 L259.90,187.73 L260.30,187.72 L260.70,188.05 L261.10,187.27 L261.50,188.13 L261.90,187.06 L262.30,187.20 L262.70,187.70 L263.10,187.40 L263.50,187.56 L263.90,187.52 L264.30,187.31 L264.70,187.30 L265.10,187.54 L265.50,187.72 L265.90,187.79 L266.30,187.68 L266.70,187.56 L267.10,187.94 L267.50,187.10 L267.90,187.65" stroke="#87178a" stroke-width="1.45"/>
<path d="M46.30,232.22 L46.70,232.37 L47.10,232.75 L47.50,232.50 L47.90,232.80 L48.30,232.89 L48.70,232.26 L49.10,232.96 L49.50,232.52 L49.90,233.28 L50.30,232.90 L50.70,232.55 L51.10,232.76 L51.50,232.77 L51.90,232.81 L52.30,233.11 L52.70,232.88 L53.10,233.20 L53.50,232.92 L53.90,232.69 L54.30,232.32 L54.70,232.31 L55.10,232.81 L55.50,232.95 L55.90,233.17 L56.30,232.59 L56.70,232.79 L57.10,232.54 L57.50,232.65 L57.90,232.14 L58.30,232.98 L58.70,232.58 L59.10,232.76 L59.50,232.91 L59.90,232.88 L60.30,232.42 L60.70,233.21 L61.10,233.00 L61.50,232.93 L61.90,232.61 L62.30,232.34 L62.70,232.34 L63.10,232.74 L63.50,232.84 L63.90,232.60 L64.30,233.31 L64.70,232.88 L65.10,233.08 L65.50,233.05 L65.90,232.50 L66.30,233.08 L66.70,232.92 L67.10,232.44 L67.50,233.00 L67.90,233.10 L68.30,233.07 L68.70,233.09 L69.10,232.40 L69.50,232.73 L69.90,232.65 L70.30,232.81 L70.70,232.83 L71.10,233.11 L71.50,233.00 L71.90,232.56 L72.30,233.04 L72.70,233.24 L73.10,232.86 L73.50,232.35 L73.90,232.58 L74.30,232.70 L74.70,232.29 L75.10,232.70 L75.50,232.37 L75.90,232.93 L76.30,232.89 L76.70,232.67 L77.10,232.33 L77.50,232.75 L77.90,232.47 L78.30,232.44 L78.70,232.93 L79.10,232.39 L79.50,232.21 L79.90,232.80 L80.30,233.06 L80.70,232.99 L81.10,232.74 L81.50,233.09 L81.90,232.39 L82.30,233.08 L82.70,233.04 L83.10,232.34 L83.50,232.53 L83.90,232.03 L84.30,232.08 L84.70,232.51 L85.10,232.01 L85.50,232.37 L85.90,232.42 L86.30,232.31 L86.70,232.52 L87.10,232.77 L87.50,232.26 L87.90,232.47 L88.30,232.58 L88.70,232.02 L89.10,231.93 L89.50,231.42 L89.90,232.20 L90.30,232.35 L90.70,232.16 L91.10,232.60 L91.50,232.42 L91.90,232.20 L92.30,231.94 L92.70,231.68 L93.10,231.93 L93.50,232.02 L93.90,231.84 L94.30,231.75 L94.70,231.71 L95.10,231.99 L95.50,231.29 L95.90,231.65 L96.30,231.73 L96.70,231.87 L97.10,231.84 L97.50,231.55 L97.90,231.41 L98.30,231.21 L98.70,231.82 L99.10,231.62 L99.50,231.48 L99.90,231.18 L100.30,231.03 L100.70,231.63 L101.10,231.26 L101.50,231.36 L101.90,231.70 L102.30,230.72 L102.70,230.89 L103.10,231.15 L103.50,231.14 L103.90,230.54 L104.30,230.56 L104.70,229.81 L105.10,227.45 L105.50,207.22 L105.60,198.42 L105.90,223.56 L106.30,229.76 L106.70,231.30 L107.10,231.17 L107.50,231.82 L107.90,231.53 L108.30,231.63 L108.70,231.83 L109.10,232.53 L109.50,232.46 L109.90,231.98 L110.30,232.82 L110.70,232.74 L111.10,232.42 L111.50,232.41 L111.90,232.48 L112.30,232.15 L112.70,233.16 L113.10,232.37 L113.50,232.46 L113.90,232.43 L114.30,232.33 L114.70,232.27 L115.10,232.62 L115.50,232.19 L115.90,232.24 L116.30,232.31 L116.70,232.77 L117.10,232.27 L117.50,232.27 L117.90,232.65 L118.30,232.24 L118.70,232.47 L119.10,232.82 L119.50,232.69 L119.90,232.58 L120.30,233.01 L120.70,232.46 L121.10,232.41 L121.50,232.09 L121.90,232.60 L122.30,232.77 L122.70,232.41 L123.10,233.13 L123.50,232.89 L123.90,232.86 L124.30,232.27 L124.70,232.69 L125.10,232.72 L125.50,232.04 L125.90,232.61 L126.30,232.56 L126.70,232.14 L127.10,232.77 L127.50,233.21 L127.90,232.85 L128.30,232.40 L128.70,232.57 L129.10,232.96 L129.50,232.41 L129.90,232.75 L130.30,232.66 L130.70,232.71 L131.10,233.12 L131.50,232.23 L131.90,232.99 L132.30,232.74 L132.70,232.64 L133.10,232.20 L133.50,232.76 L133.90,232.56 L134.30,231.85 L134.70,232.29 L135.10,232.34 L135.50,232.40 L135.90,232.51 L136.30,232.45 L136.70,233.12 L137.10,232.99 L137.50,232.67 L137.90,233.08 L138.30,233.29 L138.70,232.82 L139.10,232.31 L139.50,232.78 L139.90,233.07 L140.30,232.37 L140.70,232.62 L141.10,232.82 L141.50,232.74 L141.90,232.14 L142.30,228.57 L142.50,223.71 L142.70,228.29 L143.10,232.14 L143.50,232.53 L143.90,231.73 L144.20,229.64 L144.30,230.79 L144.70,232.66 L145.10,232.39 L145.50,232.20 L145.90,232.73 L146.30,232.94 L146.70,233.00 L147.10,232.96 L147.50,232.31 L147.90,232.76 L148.30,232.64 L148.70,232.55 L149.10,233.50 L149.50,232.76 L149.90,232.84 L150.30,232.68 L150.70,232.96 L151.10,233.10 L151.50,232.70 L151.90,232.77 L152.30,232.66 L152.70,232.50 L153.10,232.73 L153.50,232.89 L153.90,232.80 L154.30,232.72 L154.70,232.27 L155.10,232.89 L155.50,232.84 L155.90,233.23 L156.30,232.62 L156.70,232.41 L157.10,232.26 L157.50,232.62 L157.90,232.79 L158.30,232.88 L158.70,232.36 L159.10,232.65 L159.50,233.10 L159.90,232.83 L160.30,232.72 L160.70,232.71 L161.10,232.38 L161.50,232.43 L161.90,232.67 L162.30,233.17 L162.70,233.15 L163.10,232.78 L163.50,233.00 L163.90,232.95 L164.30,233.15 L164.70,232.63 L165.10,232.91 L165.50,233.10 L165.90,232.48 L166.30,232.81 L166.70,232.91 L167.10,232.95 L167.50,232.98 L167.90,233.00 L168.30,233.12 L168.70,233.22 L169.10,232.94 L169.50,233.44 L169.90,232.69 L170.30,232.76 L170.70,232.89 L171.10,232.56 L171.50,232.32 L171.90,232.29 L172.30,232.83 L172.70,231.89 L173.10,229.73 L173.50,217.68 L173.50,217.68 L173.90,230.16 L174.30,231.81 L174.70,232.59 L175.10,232.53 L175.50,232.81 L175.90,232.78 L176.30,232.75 L176.70,232.89 L177.10,232.59 L177.50,232.73 L177.90,232.64 L178.30,232.97 L178.70,233.07 L179.10,233.10 L179.50,232.33 L179.90,233.36 L180.30,232.82 L180.70,232.85 L181.10,232.87 L181.50,232.87 L181.90,233.24 L182.30,232.92 L182.70,232.97 L183.10,233.16 L183.50,233.26 L183.90,232.61 L184.30,232.55 L184.70,232.35 L185.10,232.36 L185.50,232.98 L185.90,232.92 L186.30,232.88 L186.70,232.98 L187.10,232.97 L187.50,233.21 L187.90,233.35 L188.30,232.63 L188.70,233.25 L189.10,233.08 L189.50,232.47 L189.90,232.48 L190.30,231.11 L190.70,223.70 L190.70,223.70 L191.10,230.77 L191.50,232.42 L191.90,232.37 L192.30,232.64 L192.70,232.97 L193.10,232.74 L193.50,232.33 L193.90,232.09 L194.30,228.48 L194.50,223.11 L194.70,228.06 L195.10,232.36 L195.50,232.54 L195.90,232.60 L196.30,233.16 L196.70,233.04 L197.10,233.08 L197.50,232.94 L197.90,232.41 L198.30,233.05 L198.70,233.08 L199.10,232.90 L199.50,233.41 L199.90,232.97 L200.30,233.42 L200.70,233.28 L201.10,232.76 L201.50,232.72 L201.90,232.86 L202.30,232.94 L202.70,233.15 L203.10,232.79 L203.50,232.66 L203.90,233.56 L204.30,232.97 L204.70,233.04 L205.10,233.45 L205.50,233.00 L205.90,232.32 L206.30,233.10 L206.70,232.80 L207.10,233.25 L207.50,232.47 L207.90,233.02 L208.30,233.20 L208.70,233.37 L209.10,233.24 L209.50,233.24 L209.90,232.97 L210.30,232.97 L210.70,232.69 L211.10,233.24 L211.50,233.40 L211.90,233.14 L212.30,232.72 L212.70,232.57 L213.10,232.81 L213.50,233.39 L213.90,232.99 L214.30,232.65 L214.70,232.80 L215.10,233.09 L215.50,232.60 L215.90,232.48 L216.30,231.96 L216.70,229.40 L217.00,223.97 L217.10,225.19 L217.50,231.49 L217.90,232.77 L218.30,232.69 L218.70,232.72 L219.10,232.85 L219.50,232.92 L219.90,232.88 L220.30,232.83 L220.70,232.86 L221.10,233.00 L221.50,233.47 L221.90,232.87 L222.30,233.21 L222.70,232.93 L223.10,232.72 L223.50,232.67 L223.90,233.08 L224.30,232.63 L224.70,233.12 L225.10,232.90 L225.50,233.47 L225.90,232.71 L226.30,233.30 L226.70,233.39 L227.10,233.23 L227.50,232.85 L227.90,233.10 L228.30,233.04 L228.70,232.96 L229.10,233.25 L229.50,232.98 L229.90,233.07 L230.30,233.30 L230.70,232.97 L231.10,232.90 L231.50,233.05 L231.90,232.86 L232.30,232.35 L232.70,232.84 L233.10,232.93 L233.50,232.63 L233.90,232.41 L234.30,233.01 L234.70,232.55 L235.10,232.25 L235.50,228.68 L235.50,228.68 L235.90,232.24 L236.30,232.98 L236.70,233.25 L237.10,232.83 L237.50,233.25 L237.90,233.28 L238.30,232.43 L238.70,232.61 L239.10,232.85 L239.50,232.91 L239.90,229.82 L240.00,229.18 L240.30,231.32 L240.70,232.78 L241.10,232.93 L241.50,232.75 L241.90,233.04 L242.30,232.87 L242.70,233.30 L243.10,232.60 L243.50,232.86 L243.90,233.31 L244.30,232.82 L244.70,232.76 L245.10,232.92 L245.50,233.51 L245.90,233.07 L246.30,233.39 L246.70,232.74 L247.10,232.94 L247.50,233.19 L247.90,233.07 L248.30,232.85 L248.70,232.37 L249.10,233.14 L249.50,233.20 L249.90,233.12 L250.30,232.51 L250.70,232.58 L251.10,232.80 L251.50,232.67 L251.90,233.23 L252.30,232.60 L252.70,232.74 L253.10,232.36 L253.50,231.54 L253.90,227.98 L254.00,226.50 L254.30,230.66 L254.70,232.47 L255.10,232.16 L255.50,233.31 L255.90,232.63 L256.30,232.41 L256.70,232.66 L257.10,233.03 L257.50,232.98 L257.90,233.17 L258.30,233.18 L258.70,233.00 L259.10,233.27 L259.50,232.48 L259.90,233.12 L260.30,233.12 L260.70,233.09 L261.10,232.95 L261.50,232.84 L261.90,232.83 L262.30,232.52 L262.70,232.85 L263.10,233.29 L263.50,233.40 L263.90,232.86 L264.30,232.84 L264.70,232.85 L265.10,232.95 L265.50,232.99 L265.90,233.13 L266.30,233.39 L266.70,232.43 L267.10,232.70 L267.50,232.86 L267.90,232.98" stroke="#1212ee" stroke-width="1.45"/>
<path d="M46.30,280.87 L46.70,281.23 L47.10,281.36 L47.50,281.37 L47.90,281.61 L48.30,281.01 L48.70,281.29 L49.10,281.05 L49.50,280.77 L49.90,280.99 L50.30,281.24 L50.70,280.96 L51.10,281.17 L51.50,281.56 L51.90,281.42 L52.30,281.43 L52.70,281.38 L53.10,281.25 L53.50,280.79 L53.90,281.60 L54.30,280.92 L54.70,281.41 L55.10,281.33 L55.50,281.41 L55.90,281.46 L56.30,281.30 L56.70,281.66 L57.10,281.06 L57.50,281.65 L57.90,280.97 L58.30,281.78 L58.70,281.32 L59.10,281.57 L59.50,281.90 L59.90,280.88 L60.30,281.41 L60.70,281.66 L61.10,281.76 L61.50,281.90 L61.90,281.70 L62.30,281.68 L62.70,281.57 L63.10,281.62 L63.50,281.57 L63.90,281.83 L64.30,281.61 L64.70,281.75 L65.10,282.02 L65.50,281.90 L65.90,281.48 L66.30,281.55 L66.70,281.79 L67.10,281.41 L67.50,281.08 L67.90,281.31 L68.30,281.75 L68.70,281.54 L69.10,281.50 L69.50,281.81 L69.90,281.30 L70.30,282.23 L70.70,281.60 L71.10,281.51 L71.50,282.16 L71.90,281.29 L72.30,281.45 L72.70,281.56 L73.10,281.31 L73.50,281.48 L73.90,281.73 L74.30,281.61 L74.70,281.55 L75.10,281.83 L75.50,282.07 L75.90,281.98 L76.30,280.94 L76.70,281.91 L77.10,281.73 L77.50,281.62 L77.90,281.22 L78.30,281.36 L78.70,281.42 L79.10,281.08 L79.50,281.80 L79.90,281.69 L80.30,281.43 L80.70,281.16 L81.10,281.79 L81.50,281.58 L81.90,281.69 L82.30,281.26 L82.70,282.04 L83.10,281.32 L83.50,281.89 L83.90,280.77 L84.30,281.40 L84.70,281.33 L85.10,280.59 L85.50,281.10 L85.90,280.93 L86.30,280.86 L86.70,281.03 L87.10,280.91 L87.50,281.31 L87.90,281.34 L88.30,281.27 L88.70,280.96 L89.10,281.04 L89.50,281.63 L89.90,281.06 L90.30,281.14 L90.70,280.97 L91.10,281.27 L91.50,281.36 L91.90,281.32 L92.30,281.21 L92.70,281.28 L93.10,281.01 L93.50,281.24 L93.90,280.78 L94.30,281.08 L94.70,281.28 L95.10,280.75 L95.50,281.24 L95.90,281.11 L96.30,280.67 L96.70,280.53 L97.10,280.54 L97.50,280.70 L97.90,281.08 L98.30,281.05 L98.70,281.32 L99.10,281.61 L99.50,280.84 L99.90,280.40 L100.30,280.54 L100.70,280.39 L101.10,280.75 L101.50,280.78 L101.90,281.28 L102.30,280.48 L102.70,280.80 L103.10,280.75 L103.50,280.72 L103.90,280.46 L104.30,280.96 L104.70,279.67 L105.10,277.27 L105.50,255.92 L105.60,246.50 L105.90,273.05 L106.30,278.61 L106.70,280.07 L107.10,280.38 L107.50,280.68 L107.90,281.04 L108.30,280.68 L108.70,280.34 L109.10,280.93 L109.50,280.63 L109.90,281.11 L110.30,281.01 L110.70,281.54 L111.10,281.11 L111.50,280.74 L111.90,281.07 L112.30,281.27 L112.70,281.00 L113.10,280.97 L113.50,280.91 L113.90,280.87 L114.30,280.73 L114.70,281.32 L115.10,281.10 L115.50,280.59 L115.90,281.29 L116.30,281.00 L116.70,281.05 L117.10,281.04 L117.50,281.33 L117.90,280.37 L118.30,280.99 L118.70,281.15 L119.10,280.96 L119.50,280.53 L119.90,280.64 L120.30,281.06 L120.70,281.40 L121.10,280.45 L121.50,280.83 L121.90,281.09 L122.30,281.07 L122.70,281.15 L123.10,281.33 L123.50,281.22 L123.90,280.59 L124.30,280.92 L124.70,280.70 L125.10,281.00 L125.50,281.43 L125.90,281.30 L126.30,281.66 L126.70,281.40 L127.10,281.32 L127.50,281.30 L127.90,280.82 L128.30,280.97 L128.70,281.18 L129.10,281.23 L129.50,281.18 L129.90,280.75 L130.30,280.72 L130.70,280.70 L131.10,281.53 L131.50,280.99 L131.90,281.25 L132.30,281.00 L132.70,280.97 L133.10,280.95 L133.50,280.91 L133.90,281.04 L134.30,281.24 L134.70,280.66 L135.10,281.03 L135.50,280.93 L135.90,280.89 L136.30,281.20 L136.70,281.46 L137.10,280.63 L137.50,281.05 L137.90,281.31 L138.30,281.24 L138.70,280.55 L139.10,281.14 L139.50,280.88 L139.90,280.86 L140.30,281.18 L140.70,280.65 L141.10,280.95 L141.50,281.01 L141.90,280.18 L142.30,277.30 L142.50,273.71 L142.70,277.30 L143.10,280.73 L143.50,280.58 L143.90,280.94 L144.30,280.80 L144.70,281.01 L145.10,281.03 L145.50,280.69 L145.90,280.96 L146.30,281.26 L146.70,280.79 L147.10,280.39 L147.50,281.09 L147.90,280.78 L148.30,281.11 L148.70,280.90 L149.10,280.79 L149.50,280.94 L149.90,281.11 L150.30,281.11 L150.70,280.65 L151.10,280.63 L151.50,280.67 L151.90,281.34 L152.30,281.06 L152.70,280.76 L153.10,280.94 L153.50,281.38 L153.90,280.69 L154.30,280.89 L154.70,281.22 L155.10,281.22 L155.50,281.19 L155.90,280.76 L156.30,281.01 L156.70,280.34 L157.10,280.91 L157.50,280.84 L157.90,280.85 L158.30,281.34 L158.70,280.96 L159.10,280.96 L159.50,281.21 L159.90,281.52 L160.30,280.78 L160.70,281.22 L161.10,280.93 L161.50,280.58 L161.90,280.86 L162.30,281.11 L162.70,280.95 L163.10,280.90 L163.50,281.02 L163.90,280.94 L164.30,280.94 L164.70,280.73 L165.10,281.19 L165.50,280.38 L165.90,281.07 L166.30,280.81 L166.70,281.24 L167.10,280.70 L167.50,280.36 L167.90,281.16 L168.30,281.31 L168.70,280.51 L169.10,281.13 L169.50,281.09 L169.90,280.74 L170.30,281.18 L170.70,280.76 L171.10,281.27 L171.50,281.30 L171.90,280.81 L172.30,280.74 L172.70,280.62 L173.10,278.98 L173.50,272.65 L173.50,272.65 L173.90,280.14 L174.30,280.94 L174.70,280.92 L175.10,280.69 L175.50,281.08 L175.90,281.02 L176.30,280.63 L176.70,280.95 L177.10,280.65 L177.50,280.89 L177.90,280.12 L178.30,281.44 L178.70,280.90 L179.10,280.74 L179.50,280.86 L179.90,280.58 L180.30,281.00 L180.70,281.42 L181.10,281.13 L181.50,280.95 L181.90,281.01 L182.30,281.08 L182.70,280.94 L183.10,280.89 L183.50,281.06 L183.90,281.13 L184.30,280.90 L184.70,281.14 L185.10,280.72 L185.50,280.55 L185.90,280.52 L186.30,281.15 L186.70,280.84 L187.10,281.03 L187.50,280.83 L187.90,280.94 L188.30,281.08 L188.70,280.62 L189.10,280.81 L189.50,281.34 L189.90,281.32 L190.30,280.11 L190.70,275.58 L190.70,275.58 L191.10,279.76 L191.50,280.99 L191.90,281.26 L192.30,281.10 L192.70,281.13 L193.10,280.76 L193.50,281.21 L193.90,280.66 L194.30,278.32 L194.50,275.59 L194.70,278.26 L195.10,280.32 L195.50,280.94 L195.90,280.71 L196.30,280.75 L196.70,281.24 L197.10,281.13 L197.50,280.96 L197.90,281.27 L198.30,281.14 L198.70,281.33 L199.10,281.34 L199.50,281.34 L199.90,280.81 L200.30,281.36 L200.70,281.13 L201.10,281.25 L201.50,281.14 L201.90,281.34 L202.30,281.09 L202.70,280.99 L203.10,281.29 L203.50,281.03 L203.90,280.81 L204.30,281.07 L204.70,281.04 L205.10,281.03 L205.50,281.08 L205.90,280.94 L206.30,280.93 L206.70,281.94 L207.10,280.88 L207.50,281.23 L207.90,281.18 L208.30,280.96 L208.70,280.98 L209.10,280.84 L209.50,280.79 L209.90,281.60 L210.30,280.84 L210.70,280.89 L211.10,281.41 L211.50,280.76 L211.90,281.52 L212.30,281.13 L212.70,281.53 L213.10,280.90 L213.50,280.95 L213.90,281.35 L214.30,281.03 L214.70,280.91 L215.10,281.35 L215.50,281.04 L215.90,280.73 L216.30,280.71 L216.70,279.59 L217.00,276.60 L217.10,277.93 L217.50,280.52 L217.90,280.87 L218.30,281.08 L218.70,281.35 L219.10,280.97 L219.50,281.05 L219.90,281.15 L220.30,281.08 L220.70,281.06 L221.10,280.37 L221.50,280.98 L221.90,281.14 L222.30,281.45 L222.70,280.93 L223.10,281.19 L223.50,281.10 L223.90,281.21 L224.30,281.71 L224.70,281.62 L225.10,281.67 L225.50,280.92 L225.90,280.98 L226.30,281.39 L226.70,280.91 L227.10,281.47 L227.50,282.16 L227.90,280.91 L228.30,281.50 L228.70,281.27 L229.10,281.38 L229.50,281.18 L229.90,280.76 L230.30,281.10 L230.70,281.00 L231.10,280.88 L231.50,281.22 L231.90,281.32 L232.30,280.99 L232.70,281.43 L233.10,281.28 L233.50,281.39 L233.90,281.36 L234.30,281.07 L234.70,281.83 L235.10,281.02 L235.50,279.31 L235.50,279.31 L235.90,280.88 L236.30,281.41 L236.70,281.02 L237.10,281.35 L237.50,281.71 L237.90,281.21 L238.30,281.34 L238.70,280.95 L239.10,281.27 L239.50,281.14 L239.90,279.71 L240.00,279.34 L240.30,280.59 L240.70,281.12 L241.10,281.59 L241.50,281.57 L241.90,281.42 L242.30,281.84 L242.70,281.35 L243.10,281.34 L243.50,281.56 L243.90,282.01 L244.30,281.29 L244.70,281.31 L245.10,281.32 L245.50,281.23 L245.90,281.07 L246.30,281.57 L246.70,281.67 L247.10,281.56 L247.50,281.51 L247.90,281.29 L248.30,281.59 L248.70,281.49 L249.10,281.23 L249.50,281.47 L249.90,281.14 L250.30,281.33 L250.70,281.21 L251.10,281.63 L251.50,281.23 L251.90,281.53 L252.30,281.02 L252.70,281.42 L253.10,281.47 L253.50,280.96 L253.90,278.63 L254.00,278.26 L254.30,280.46 L254.70,281.19 L255.10,281.23 L255.50,281.02 L255.90,281.04 L256.30,281.33 L256.70,281.23 L257.10,281.52 L257.50,281.66 L257.90,281.49 L258.30,281.31 L258.70,281.39 L259.10,281.64 L259.50,281.04 L259.90,281.71 L260.30,281.70 L260.70,281.35 L261.10,281.52 L261.50,281.52 L261.90,281.84 L262.30,281.69 L262.70,281.33 L263.10,280.67 L263.50,282.09 L263.90,281.77 L264.30,281.41 L264.70,281.10 L265.10,281.40 L265.50,281.24 L265.90,281.94 L266.30,281.78 L266.70,281.08 L267.10,281.73 L267.50,281.44 L267.90,281.68" stroke="#f014f0" stroke-width="1.45"/>
<path d="M46.30,327.05 L46.70,326.72 L47.10,326.40 L47.50,326.16 L47.90,326.00 L48.30,326.30 L48.70,326.17 L49.10,326.16 L49.50,326.27 L49.90,326.30 L50.30,325.95 L50.70,326.47 L51.10,326.00 L51.50,326.63 L51.90,326.43 L52.30,326.27 L52.70,326.57 L53.10,326.36 L53.50,326.48 L53.90,326.39 L54.30,326.56 L54.70,326.56 L55.10,326.26 L55.50,326.31 L55.90,326.48 L56.30,326.40 L56.70,326.09 L57.10,326.79 L57.50,326.14 L57.90,326.17 L58.30,326.32 L58.70,326.64 L59.10,326.86 L59.50,326.56 L59.90,326.56 L60.30,326.67 L60.70,326.61 L61.10,326.71 L61.50,326.54 L61.90,326.82 L62.30,326.84 L62.70,326.41 L63.10,326.81 L63.50,326.88 L63.90,326.97 L64.30,326.77 L64.70,326.71 L65.10,326.79 L65.50,327.06 L65.90,326.85 L66.30,326.88 L66.70,327.21 L67.10,326.91 L67.50,326.91 L67.90,327.05 L68.30,327.11 L68.70,327.25 L69.10,326.95 L69.50,326.85 L69.90,327.08 L70.30,327.20 L70.70,326.86 L71.10,327.02 L71.50,327.15 L71.90,327.13 L72.30,327.11 L72.70,327.06 L73.10,326.97 L73.50,326.95 L73.90,327.28 L74.30,326.91 L74.70,327.29 L75.10,326.88 L75.50,327.55 L75.90,326.81 L76.30,327.34 L76.70,326.94 L77.10,327.07 L77.50,327.07 L77.90,326.98 L78.30,327.44 L78.70,327.09 L79.10,326.87 L79.50,327.18 L79.90,327.19 L80.30,326.89 L80.70,327.15 L81.10,327.08 L81.50,327.20 L81.90,327.18 L82.30,327.06 L82.70,326.99 L83.10,327.20 L83.50,327.11 L83.90,326.82 L84.30,326.96 L84.70,326.97 L85.10,327.01 L85.50,327.41 L85.90,326.98 L86.30,327.12 L86.70,327.30 L87.10,327.12 L87.50,327.10 L87.90,327.24 L88.30,327.06 L88.70,327.06 L89.10,327.14 L89.50,327.09 L89.90,326.91 L90.30,326.83 L90.70,327.00 L91.10,327.24 L91.50,326.98 L91.90,327.20 L92.30,327.08 L92.70,326.96 L93.10,326.59 L93.50,327.04 L93.90,326.96 L94.30,326.75 L94.70,327.08 L95.10,326.99 L95.50,327.06 L95.90,326.90 L96.30,327.03 L96.70,326.92 L97.10,327.16 L97.50,327.01 L97.90,326.76 L98.30,327.02 L98.70,326.99 L99.10,326.94 L99.50,326.76 L99.90,327.14 L100.30,326.85 L100.70,327.21 L101.10,326.85 L101.50,326.95 L101.90,326.92 L102.30,326.93 L102.70,327.30 L103.10,326.76 L103.50,327.10 L103.90,326.74 L104.30,326.25 L104.70,325.83 L105.10,322.53 L105.50,298.50 L105.50,298.50 L105.90,322.48 L106.30,325.57 L106.70,326.34 L107.10,326.62 L107.50,326.77 L107.90,327.09 L108.30,326.94 L108.70,326.61 L109.10,327.13 L109.50,326.95 L109.90,326.97 L110.30,326.67 L110.70,327.03 L111.10,326.89 L111.50,327.13 L111.90,327.05 L112.30,327.11 L112.70,326.92 L113.10,326.69 L113.50,327.14 L113.90,327.05 L114.30,326.93 L114.70,326.90 L115.10,326.85 L115.50,326.71 L115.90,326.80 L116.30,326.98 L116.70,327.25 L117.10,327.06 L117.50,327.25 L117.90,326.83 L118.30,327.19 L118.70,326.93 L119.10,327.23 L119.50,327.19 L119.90,327.00 L120.30,327.02 L120.70,327.19 L121.10,326.87 L121.50,326.65 L121.90,327.13 L122.30,327.34 L122.70,326.69 L123.10,327.03 L123.50,326.81 L123.90,326.95 L124.30,326.84 L124.70,327.14 L125.10,326.91 L125.50,326.97 L125.90,326.82 L126.30,327.11 L126.70,326.92 L127.10,326.94 L127.50,326.98 L127.90,326.76 L128.30,326.99 L128.70,326.74 L129.10,326.96 L129.50,326.96 L129.90,326.93 L130.30,326.97 L130.70,326.89 L131.10,327.08 L131.50,327.00 L131.90,326.92 L132.30,326.96 L132.70,326.89 L133.10,326.98 L133.50,326.95 L133.90,326.71 L134.30,327.26 L134.70,326.92 L135.10,326.89 L135.50,327.04 L135.90,326.66 L136.30,326.93 L136.70,327.04 L137.10,326.95 L137.50,327.00 L137.90,326.92 L138.30,326.93 L138.70,326.97 L139.10,327.00 L139.50,326.79 L139.90,326.99 L140.30,326.94 L140.70,326.50 L141.00,325.45 L141.10,325.85 L141.50,326.93 L141.90,326.92 L142.30,326.25 L142.70,322.61 L142.80,321.18 L143.10,325.65 L143.50,326.63 L143.90,326.87 L144.30,327.04 L144.70,326.73 L145.10,325.18 L145.20,324.47 L145.50,326.25 L145.90,326.82 L146.30,326.89 L146.70,326.87 L147.10,327.21 L147.50,327.06 L147.90,326.55 L148.30,326.85 L148.70,326.97 L149.10,326.98 L149.50,326.85 L149.90,326.93 L150.30,326.93 L150.70,326.91 L151.10,327.09 L151.50,326.98 L151.90,326.90 L152.30,326.94 L152.70,326.99 L153.10,326.82 L153.50,326.90 L153.90,327.09 L154.30,327.15 L154.70,326.62 L155.10,327.39 L155.50,326.90 L155.90,327.13 L156.30,326.78 L156.70,327.11 L157.10,327.00 L157.50,326.99 L157.90,326.95 L158.30,326.96 L158.70,327.12 L159.10,326.88 L159.50,326.96 L159.90,326.94 L160.30,326.74 L160.70,327.02 L161.10,326.99 L161.50,326.92 L161.90,326.78 L162.30,326.95 L162.70,326.97 L163.10,327.00 L163.50,327.01 L163.90,326.81 L164.30,327.16 L164.70,327.13 L165.10,327.13 L165.50,327.07 L165.90,327.21 L166.30,327.12 L166.70,327.18 L167.10,327.05 L167.50,327.02 L167.90,327.10 L168.30,326.88 L168.70,326.96 L169.10,327.02 L169.50,326.89 L169.90,326.59 L170.30,326.88 L170.70,326.84 L171.10,327.08 L171.50,326.61 L171.90,326.75 L172.30,327.01 L172.70,326.03 L173.10,324.46 L173.40,318.21 L173.50,319.86 L173.90,325.91 L174.30,326.49 L174.70,326.39 L175.10,326.80 L175.50,326.72 L175.90,327.13 L176.30,326.97 L176.70,326.80 L177.10,327.02 L177.50,327.29 L177.90,326.78 L178.30,326.83 L178.70,326.98 L179.10,327.00 L179.50,327.02 L179.90,326.76 L180.30,327.02 L180.70,326.81 L181.10,326.88 L181.50,327.15 L181.90,326.88 L182.30,327.10 L182.70,326.95 L183.10,327.03 L183.50,327.03 L183.90,327.10 L184.30,327.12 L184.70,326.88 L185.10,327.27 L185.50,327.10 L185.90,327.15 L186.30,327.16 L186.70,326.92 L187.10,326.99 L187.50,327.01 L187.90,327.04 L188.30,327.26 L188.70,327.28 L189.10,327.52 L189.50,327.24 L189.90,327.18 L190.30,326.82 L190.70,326.42 L191.10,324.64 L191.30,321.99 L191.50,324.47 L191.90,326.49 L192.30,326.86 L192.70,326.86 L193.10,326.96 L193.50,326.74 L193.90,325.64 L194.20,321.99 L194.30,323.07 L194.70,326.39 L195.10,327.03 L195.50,327.06 L195.90,326.71 L196.30,326.99 L196.70,327.23 L197.10,327.07 L197.50,327.20 L197.90,326.76 L198.30,327.08 L198.70,326.69 L199.10,327.13 L199.50,326.82 L199.90,327.24 L200.30,326.91 L200.70,327.04 L201.10,327.06 L201.50,327.02 L201.90,326.78 L202.30,327.14 L202.70,326.94 L203.10,327.42 L203.50,326.98 L203.90,327.06 L204.30,326.97 L204.70,327.30 L205.10,327.27 L205.50,327.12 L205.90,327.19 L206.30,326.89 L206.70,326.88 L207.10,327.24 L207.50,326.89 L207.90,326.98 L208.30,326.78 L208.70,326.97 L209.10,327.09 L209.50,327.01 L209.90,326.78 L210.30,327.15 L210.70,327.05 L211.10,326.62 L211.50,326.85 L211.90,326.97 L212.30,326.94 L212.70,327.05 L213.10,327.19 L213.50,327.00 L213.90,327.00 L214.30,327.23 L214.70,327.26 L215.10,326.95 L215.50,327.24 L215.90,326.68 L216.30,327.16 L216.70,326.88 L217.10,326.33 L217.50,324.62 L217.70,323.23 L217.90,324.92 L218.30,326.60 L218.70,326.86 L219.10,326.85 L219.50,326.98 L219.90,326.79 L220.30,326.94 L220.70,326.87 L221.10,326.96 L221.50,327.09 L221.90,326.97 L222.30,326.74 L222.70,327.20 L223.10,327.02 L223.50,327.10 L223.90,326.92 L224.30,326.99 L224.70,326.98 L225.10,327.26 L225.50,326.83 L225.90,327.17 L226.30,327.02 L226.70,327.15 L227.10,326.93 L227.50,326.77 L227.90,327.18 L228.30,326.97 L228.70,327.11 L229.10,327.15 L229.50,326.76 L229.90,326.95 L230.30,327.00 L230.70,327.13 L231.10,327.13 L231.50,327.16 L231.90,327.00 L232.30,327.25 L232.70,327.04 L233.10,327.02 L233.50,326.95 L233.90,326.83 L234.30,326.99 L234.70,326.97 L235.10,326.70 L235.50,325.25 L235.50,325.25 L235.90,326.71 L236.30,326.72 L236.70,326.95 L237.10,327.01 L237.50,327.09 L237.90,326.98 L238.30,327.06 L238.70,326.83 L239.10,327.10 L239.50,326.78 L239.90,325.05 L239.90,325.05 L240.30,326.51 L240.70,326.95 L241.10,326.85 L241.50,327.04 L241.90,327.15 L242.30,327.19 L242.70,327.22 L243.10,326.81 L243.50,326.73 L243.90,327.13 L244.30,326.93 L244.70,326.93 L245.10,326.88 L245.50,326.95 L245.90,327.14 L246.30,326.82 L246.70,326.83 L247.10,327.21 L247.50,327.15 L247.90,326.78 L248.30,326.75 L248.70,327.11 L249.10,327.18 L249.50,327.37 L249.90,327.15 L250.30,327.15 L250.70,327.00 L251.10,327.05 L251.50,326.97 L251.90,327.22 L252.30,327.08 L252.70,327.17 L253.10,326.99 L253.50,326.62 L253.90,325.69 L254.10,324.48 L254.30,325.75 L254.70,326.50 L255.10,327.11 L255.50,326.93 L255.90,327.24 L256.30,326.98 L256.70,326.91 L257.10,327.18 L257.50,326.86 L257.90,327.24 L258.30,326.98 L258.70,327.16 L259.10,326.83 L259.50,327.07 L259.90,326.98 L260.30,327.32 L260.70,326.94 L261.10,327.04 L261.50,326.94 L261.90,327.07 L262.30,327.10 L262.70,327.26 L263.10,327.19 L263.50,326.83 L263.90,327.38 L264.30,327.10 L264.70,327.26 L265.10,327.03 L265.50,327.21 L265.90,327.07 L266.30,327.04 L266.70,327.07 L267.10,326.95 L267.50,327.16 L267.90,327.15" stroke="#141414" stroke-width="1.3"/>
</g>
<line x1="59.30" y1="13.50" x2="59.30" y2="140.00" stroke="#2aa02a" stroke-width="1.1" stroke-dasharray="1.4 1.0"/>
<line x1="114.90" y1="13.00" x2="114.90" y2="146.00" stroke="#c8c84a" stroke-width="1.5" stroke-dasharray="1.4 1.0"/>
<rect x="45.5" y="7.8" width="223.10" height="327.20" fill="none" stroke="#000" stroke-width="1.75"/>
<line x1="45.50" y1="54.90" x2="268.60" y2="54.90" stroke="#000" stroke-width="1.75"/>
<line x1="45.50" y1="101.20" x2="268.60" y2="101.20" stroke="#000" stroke-width="1.75"/>
<line x1="45.50" y1="147.80" x2="268.60" y2="147.80" stroke="#000" stroke-width="1.75"/>
<line x1="45.50" y1="195.30" x2="268.60" y2="195.30" stroke="#000" stroke-width="1.75"/>
<line x1="45.50" y1="241.50" x2="268.60" y2="241.50" stroke="#000" stroke-width="1.75"/>
<line x1="45.50" y1="288.30" x2="268.60" y2="288.30" stroke="#000" stroke-width="1.75"/>
<line x1="45.50" y1="15.20" x2="49.50" y2="15.20" stroke="#141414" stroke-width="1.3"/>
<text transform="translate(40.60,18.62) scale(0.970,1)" font-size="9.90" font-weight="bold" fill="#141414" text-anchor="end">42</text>
<line x1="45.50" y1="26.30" x2="49.50" y2="26.30" stroke="#141414" stroke-width="1.3"/>
<text transform="translate(40.60,29.72) scale(0.970,1)" font-size="9.90" font-weight="bold" fill="#141414" text-anchor="end">28</text>
<line x1="45.50" y1="37.50" x2="49.50" y2="37.50" stroke="#141414" stroke-width="1.3"/>
<text transform="translate(40.60,40.92) scale(0.970,1)" font-size="9.90" font-weight="bold" fill="#141414" text-anchor="end">14</text>
<line x1="45.50" y1="48.70" x2="49.50" y2="48.70" stroke="#141414" stroke-width="1.3"/>
<text transform="translate(40.60,52.12) scale(0.970,1)" font-size="9.90" font-weight="bold" fill="#141414" text-anchor="end">0</text>
<line x1="45.50" y1="58.60" x2="49.50" y2="58.60" stroke="#141414" stroke-width="1.3"/>
<text transform="translate(40.60,62.02) scale(0.970,1)" font-size="9.90" font-weight="bold" fill="#141414" text-anchor="end">36</text>
<line x1="45.50" y1="70.30" x2="49.50" y2="70.30" stroke="#141414" stroke-width="1.3"/>
<text transform="translate(40.60,73.72) scale(0.970,1)" font-size="9.90" font-weight="bold" fill="#141414" text-anchor="end">24</text>
<line x1="45.50" y1="81.90" x2="49.50" y2="81.90" stroke="#141414" stroke-width="1.3"/>
<text transform="translate(40.60,85.32) scale(0.970,1)" font-size="9.90" font-weight="bold" fill="#141414" text-anchor="end">12</text>
<line x1="45.50" y1="93.50" x2="49.50" y2="93.50" stroke="#141414" stroke-width="1.3"/>
<text transform="translate(40.60,96.92) scale(0.970,1)" font-size="9.90" font-weight="bold" fill="#141414" text-anchor="end">0</text>
<line x1="45.50" y1="103.30" x2="49.50" y2="103.30" stroke="#141414" stroke-width="1.3"/>
<text transform="translate(40.60,106.72) scale(0.970,1)" font-size="9.90" font-weight="bold" fill="#141414" text-anchor="end">200</text>
<line x1="45.50" y1="121.20" x2="49.50" y2="121.20" stroke="#141414" stroke-width="1.3"/>
<text transform="translate(40.60,124.62) scale(0.970,1)" font-size="9.90" font-weight="bold" fill="#141414" text-anchor="end">100</text>
<line x1="45.50" y1="138.60" x2="49.50" y2="138.60" stroke="#141414" stroke-width="1.3"/>
<text transform="translate(40.60,142.02) scale(0.970,1)" font-size="9.90" font-weight="bold" fill="#141414" text-anchor="end">0</text>
<line x1="45.50" y1="148.30" x2="49.50" y2="148.30" stroke="#141414" stroke-width="1.3"/>
<text transform="translate(40.60,151.72) scale(0.970,1)" font-size="9.90" font-weight="bold" fill="#141414" text-anchor="end">300</text>
<line x1="45.50" y1="161.20" x2="49.50" y2="161.20" stroke="#141414" stroke-width="1.3"/>
<text transform="translate(40.60,164.62) scale(0.970,1)" font-size="9.90" font-weight="bold" fill="#141414" text-anchor="end">200</text>
<line x1="45.50" y1="174.80" x2="49.50" y2="174.80" stroke="#141414" stroke-width="1.3"/>
<text transform="translate(40.60,178.22) scale(0.970,1)" font-size="9.90" font-weight="bold" fill="#141414" text-anchor="end">100</text>
<line x1="45.50" y1="187.80" x2="49.50" y2="187.80" stroke="#141414" stroke-width="1.3"/>
<text transform="translate(40.60,191.22) scale(0.970,1)" font-size="9.90" font-weight="bold" fill="#141414" text-anchor="end">0</text>
<line x1="45.50" y1="202.40" x2="49.50" y2="202.40" stroke="#141414" stroke-width="1.3"/>
<text transform="translate(40.60,205.82) scale(0.970,1)" font-size="9.90" font-weight="bold" fill="#141414" text-anchor="end">200</text>
<line x1="45.50" y1="217.90" x2="49.50" y2="217.90" stroke="#141414" stroke-width="1.3"/>
<text transform="translate(40.60,221.32) scale(0.970,1)" font-size="9.90" font-weight="bold" fill="#141414" text-anchor="end">100</text>
<line x1="45.50" y1="233.40" x2="49.50" y2="233.40" stroke="#141414" stroke-width="1.3"/>
<text transform="translate(40.60,236.82) scale(0.970,1)" font-size="9.90" font-weight="bold" fill="#141414" text-anchor="end">0</text>
<line x1="45.50" y1="247.50" x2="49.50" y2="247.50" stroke="#141414" stroke-width="1.3"/>
<text transform="translate(40.60,250.92) scale(0.970,1)" font-size="9.90" font-weight="bold" fill="#141414" text-anchor="end">300</text>
<line x1="45.50" y1="265.00" x2="49.50" y2="265.00" stroke="#141414" stroke-width="1.3"/>
<text transform="translate(40.60,268.42) scale(0.970,1)" font-size="9.90" font-weight="bold" fill="#141414" text-anchor="end">150</text>
<line x1="45.50" y1="282.30" x2="49.50" y2="282.30" stroke="#141414" stroke-width="1.3"/>
<text transform="translate(40.60,285.72) scale(0.970,1)" font-size="9.90" font-weight="bold" fill="#141414" text-anchor="end">0</text>
<line x1="45.50" y1="292.40" x2="49.50" y2="292.40" stroke="#141414" stroke-width="1.3"/>
<text transform="translate(40.60,295.82) scale(0.970,1)" font-size="9.90" font-weight="bold" fill="#141414" text-anchor="end">450</text>
<line x1="45.50" y1="304.00" x2="49.50" y2="304.00" stroke="#141414" stroke-width="1.3"/>
<text transform="translate(40.60,307.42) scale(0.970,1)" font-size="9.90" font-weight="bold" fill="#141414" text-anchor="end">300</text>
<line x1="45.50" y1="315.90" x2="49.50" y2="315.90" stroke="#141414" stroke-width="1.3"/>
<text transform="translate(40.60,319.32) scale(0.970,1)" font-size="9.90" font-weight="bold" fill="#141414" text-anchor="end">150</text>
<line x1="45.50" y1="327.60" x2="49.50" y2="327.60" stroke="#141414" stroke-width="1.3"/>
<text transform="translate(40.60,331.02) scale(0.970,1)" font-size="9.90" font-weight="bold" fill="#141414" text-anchor="end">0</text>
<line x1="60.37" y1="335.00" x2="60.37" y2="331.00" stroke="#141414" stroke-width="1.3"/>
<line x1="75.25" y1="335.00" x2="75.25" y2="333.00" stroke="#141414" stroke-width="1.3"/>
<line x1="90.12" y1="335.00" x2="90.12" y2="331.00" stroke="#141414" stroke-width="1.3"/>
<line x1="104.99" y1="335.00" x2="104.99" y2="333.00" stroke="#141414" stroke-width="1.3"/>
<line x1="119.87" y1="335.00" x2="119.87" y2="331.00" stroke="#141414" stroke-width="1.3"/>
<line x1="134.74" y1="335.00" x2="134.74" y2="333.00" stroke="#141414" stroke-width="1.3"/>
<line x1="149.61" y1="335.00" x2="149.61" y2="331.00" stroke="#141414" stroke-width="1.3"/>
<line x1="164.49" y1="335.00" x2="164.49" y2="333.00" stroke="#141414" stroke-width="1.3"/>
<line x1="179.36" y1="335.00" x2="179.36" y2="331.00" stroke="#141414" stroke-width="1.3"/>
<line x1="194.23" y1="335.00" x2="194.23" y2="333.00" stroke="#141414" stroke-width="1.3"/>
<line x1="209.11" y1="335.00" x2="209.11" y2="331.00" stroke="#141414" stroke-width="1.3"/>
<line x1="223.98" y1="335.00" x2="223.98" y2="333.00" stroke="#141414" stroke-width="1.3"/>
<line x1="238.85" y1="335.00" x2="238.85" y2="331.00" stroke="#141414" stroke-width="1.3"/>
<line x1="253.73" y1="335.00" x2="253.73" y2="333.00" stroke="#141414" stroke-width="1.3"/>
<text transform="translate(60.37,348.75) scale(1.000,1)" font-size="10.00" font-weight="bold" fill="#141414" text-anchor="middle">10</text>
<text transform="translate(90.12,348.75) scale(1.000,1)" font-size="10.00" font-weight="bold" fill="#141414" text-anchor="middle">20</text>
<text transform="translate(119.87,348.75) scale(1.000,1)" font-size="10.00" font-weight="bold" fill="#141414" text-anchor="middle">30</text>
<text transform="translate(149.61,348.75) scale(1.000,1)" font-size="10.00" font-weight="bold" fill="#141414" text-anchor="middle">40</text>
<text transform="translate(179.36,348.75) scale(1.000,1)" font-size="10.00" font-weight="bold" fill="#141414" text-anchor="middle">50</text>
<text transform="translate(209.11,348.75) scale(1.000,1)" font-size="10.00" font-weight="bold" fill="#141414" text-anchor="middle">60</text>
<text transform="translate(238.85,348.75) scale(1.000,1)" font-size="10.00" font-weight="bold" fill="#141414" text-anchor="middle">70</text>
<text transform="translate(268.60,348.75) scale(1.000,1)" font-size="10.00" font-weight="bold" fill="#141414" text-anchor="middle">80</text>
<text transform="translate(68.67,24.99) rotate(-90) scale(0.980,1)" font-size="8.60" font-weight="bold" fill="#1a1a1a" stroke="#1a1a1a" stroke-width="0.2">200</text>
<text transform="translate(105.17,29.23) rotate(-90) scale(1.032,1)" font-size="8.60" font-weight="bold" fill="#1a1a1a" stroke="#1a1a1a" stroke-width="0.2">110</text>
<text transform="translate(122.81,24.17) rotate(-90) scale(0.885,1)" font-size="8.60" font-weight="bold" fill="#1a1a1a" stroke="#1a1a1a" stroke-width="0.2">211</text>
<text transform="translate(179.02,25.53) rotate(-90) scale(0.961,1)" font-size="8.60" font-weight="bold" fill="#1a1a1a" stroke="#1a1a1a" stroke-width="0.2">020</text>
<text transform="translate(113.07,310.33) rotate(-90) scale(0.832,1)" font-size="8.60" font-weight="bold" fill="#ee1c24" stroke="#ee1c24" stroke-width="0.2">101</text>
<text transform="translate(139.27,322.09) rotate(-90) scale(0.941,1)" font-size="8.60" font-weight="bold" fill="#ee1c24" stroke="#ee1c24" stroke-width="0.2">103</text>
<text transform="translate(146.07,317.92) rotate(-90) scale(0.926,1)" font-size="8.60" font-weight="bold" fill="#ee1c24" stroke="#ee1c24" stroke-width="0.2">004</text>
<text transform="translate(152.91,324.00) rotate(-90) scale(0.963,1)" font-size="8.60" font-weight="bold" fill="#ee1c24" stroke="#ee1c24" stroke-width="0.2">112</text>
<text transform="translate(176.92,313.58) rotate(-90) scale(0.943,1)" font-size="8.60" font-weight="bold" fill="#ee1c24" stroke="#ee1c24" stroke-width="0.2">200</text>
<text transform="translate(194.12,320.81) rotate(-90) scale(0.986,1)" font-size="8.60" font-weight="bold" fill="#ee1c24" stroke="#ee1c24" stroke-width="0.2">105</text>
<text transform="translate(201.26,319.57) rotate(-90) scale(0.900,1)" font-size="8.60" font-weight="bold" fill="#ee1c24" stroke="#ee1c24" stroke-width="0.2">211</text>
<text transform="translate(216.77,320.59) rotate(-90) scale(0.977,1)" font-size="8.60" font-weight="bold" fill="#ee1c24" stroke="#ee1c24" stroke-width="0.2">213</text>
<text transform="translate(223.27,319.58) rotate(-90) scale(0.930,1)" font-size="8.60" font-weight="bold" fill="#ee1c24" stroke="#ee1c24" stroke-width="0.2">204</text>
<text transform="translate(238.02,322.21) rotate(-90) scale(0.998,1)" font-size="8.60" font-weight="bold" fill="#ee1c24" stroke="#ee1c24" stroke-width="0.2">116</text>
<text transform="translate(245.22,321.99) rotate(-90) scale(0.973,1)" font-size="8.60" font-weight="bold" fill="#ee1c24" stroke="#ee1c24" stroke-width="0.2">220</text>
<text transform="translate(257.37,320.78) rotate(-90) scale(0.942,1)" font-size="8.60" font-weight="bold" fill="#ee1c24" stroke="#ee1c24" stroke-width="0.2">215</text>
<text transform="translate(240.36,20.40) scale(0.939,1)" font-size="10.34" font-weight="bold" fill="#f7860f">96 h</text>
<text transform="translate(241.75,73.01) scale(1.099,1)" font-size="8.98" font-weight="bold" fill="#980608">60 h</text>
<text transform="translate(242.71,119.80) scale(0.972,1)" font-size="10.07" font-weight="bold" fill="#17801a">54 h</text>
<text transform="translate(242.95,161.60) scale(0.962,1)" font-size="10.21" font-weight="bold" fill="#87178a">42 h</text>
<text transform="translate(241.34,207.50) scale(1.045,1)" font-size="9.80" font-weight="bold" fill="#1212ee">36 h</text>
<text transform="translate(240.45,254.60) scale(0.975,1)" font-size="10.34" font-weight="bold" fill="#f014f0">30 h</text>
<text transform="translate(243.75,300.80) scale(1.101,1)" font-size="8.97" font-weight="bold" fill="#141414">24 h</text>
<text transform="translate(4.47,18.23) scale(0.850,1)" font-size="19.36" font-weight="bold" fill="#ee1c24" stroke="#ee1c24" stroke-width="0.3">(</text>
<text transform="translate(11.76,19.01) scale(0.771,1)" font-size="18.91" font-weight="bold" fill="#ee1c24" stroke="#ee1c24" stroke-width="0.35">a</text>
<text transform="translate(22.36,18.23) scale(0.850,1)" font-size="19.36" font-weight="bold" fill="#ee1c24" stroke="#ee1c24" stroke-width="0.3">)</text>
<text transform="translate(115.18,365.60) scale(0.941,1)" font-size="15.71" font-weight="bold" fill="#141414">2</text>
<text transform="translate(124.56,365.85) scale(0.852,1)" font-size="14.97" font-weight="normal" fill="#141414" stroke="#141414" stroke-width="0.3">θ</text>
<text transform="translate(136.02,366.15) scale(0.710,1)" font-size="15.94" font-weight="normal" fill="#141414" stroke="#141414" stroke-width="0.8">(</text>
<text transform="translate(141.67,365.54) scale(1.012,1)" font-size="15.51" font-weight="bold" fill="#141414">degree</text>
<text transform="translate(194.75,366.15) scale(0.639,1)" font-size="15.94" font-weight="normal" fill="#141414" stroke="#141414" stroke-width="0.8">)</text>
<text transform="translate(18.94,211.11) rotate(-90) scale(1.045,1)" font-size="16.40" fill="#141414"><tspan font-weight="bold">Intensity (a.u.)</tspan></text>
<g fill="none" stroke-linejoin="round" stroke-linecap="round">
<path d="M300.20,25.30 L300.70,25.33 L301.20,25.35 L301.70,25.37 L302.20,25.40 L302.70,25.42 L303.20,25.44 L303.70,25.46 L304.20,25.47 L304.70,25.49 L305.20,25.51 L305.70,25.52 L306.20,25.54 L306.70,25.55 L307.20,25.57 L307.70,25.58 L308.20,25.59 L308.70,25.60 L309.20,25.60 L309.70,25.56 L310.20,25.38 L310.70,25.12 L311.20,24.90 L311.70,24.80 L312.20,24.87 L312.70,25.04 L313.20,25.23 L313.70,25.37 L314.20,25.40 L314.70,25.40 L315.20,25.40 L315.70,25.40 L316.20,25.40 L316.70,25.46 L317.20,26.09 L317.70,27.26 L318.20,28.81 L318.70,30.57 L319.20,32.67 L319.70,35.91 L320.20,39.86 L320.70,43.89 L321.20,47.41 L321.70,50.24 L322.20,52.97 L322.70,55.57 L323.20,58.02 L323.70,60.29 L324.20,62.35 L324.70,64.15 L325.20,65.72 L325.70,67.20 L326.20,68.60 L326.70,69.88 L327.20,71.02 L327.70,72.01 L328.20,72.81 L328.70,73.43 L329.20,74.01 L329.70,74.55 L330.20,75.04 L330.70,75.45 L331.20,75.76 L331.70,75.95 L332.20,76.00 L332.70,75.91 L333.20,75.72 L333.70,75.45 L334.20,75.10 L334.70,74.69 L335.20,74.25 L335.70,73.79 L336.20,73.32 L336.70,72.87 L337.20,72.44 L337.70,71.97 L338.20,71.48 L338.70,70.95 L339.20,70.40 L339.70,69.83 L340.20,69.23 L340.70,68.63 L341.20,68.01 L341.70,67.39 L342.20,66.76 L342.70,66.13 L343.20,65.48 L343.70,64.81 L344.20,64.10 L344.70,63.36 L345.20,62.60 L345.70,61.83 L346.20,61.05 L346.70,60.27 L347.20,59.48 L347.70,58.71 L348.20,57.95 L348.70,57.21 L349.20,56.49 L349.70,55.81 L350.20,55.16 L350.70,54.56 L351.20,54.00 L351.70,53.48 L352.20,52.98 L352.70,52.50 L353.20,52.04 L353.70,51.59 L354.20,51.16 L354.70,50.74 L355.20,50.33 L355.70,49.93 L356.20,49.54 L356.70,49.15 L357.20,48.76 L357.70,48.38 L358.20,47.99 L358.70,47.61 L359.20,47.22 L359.70,46.82 L360.20,46.43 L360.70,46.05 L361.20,45.67 L361.70,45.31 L362.20,44.95 L362.70,44.59 L363.20,44.23 L363.70,43.88 L364.20,43.52 L364.70,43.17 L365.20,42.81 L365.70,42.45 L366.20,42.08 L366.70,41.71 L367.20,41.33 L367.70,40.94 L368.20,40.54 L368.70,40.13 L369.20,39.70 L369.70,39.25 L370.20,38.76 L370.70,38.24 L371.20,37.70 L371.70,37.13 L372.20,36.56 L372.70,35.98 L373.20,35.40 L373.70,34.83 L374.20,34.27 L374.70,33.72 L375.20,33.20 L375.70,32.71 L376.20,32.26 L376.70,31.85 L377.20,31.49 L377.70,31.18 L378.20,30.89 L378.70,30.62 L379.20,30.35 L379.70,30.10 L380.20,29.86 L380.70,29.63 L381.20,29.41 L381.70,29.20 L382.20,29.00 L382.70,28.80 L383.20,28.62 L383.70,28.44 L384.20,28.26 L384.70,28.09 L385.20,27.93 L385.70,27.76 L386.20,27.60 L386.70,27.44 L387.20,27.27 L387.70,27.10 L388.20,26.93 L388.70,26.76 L389.20,26.59 L389.70,26.43 L390.20,26.27 L390.70,26.12 L391.20,25.98 L391.70,25.84 L392.20,25.72 L392.70,25.61 L393.20,25.51 L393.70,25.43 L394.20,25.37 L394.70,25.33 L395.20,25.30 L395.70,25.30 L396.20,25.31 L396.70,25.32 L397.20,25.33 L397.70,25.35 L398.20,25.37 L398.70,25.40 L399.20,25.43 L399.70,25.46 L400.20,25.49 L400.70,25.52 L401.20,25.56 L401.70,25.59 L402.20,25.63 L402.70,25.66 L403.20,25.70 L403.70,25.73 L404.20,25.76 L404.70,25.79 L405.20,25.81 L405.70,25.84 L406.20,25.86 L406.70,25.89 L407.20,25.92 L407.70,25.95 L408.20,25.97 L408.70,25.99 L409.20,26.00 L409.70,26.00 L410.20,25.99 L410.70,25.97 L411.20,25.93 L411.70,25.89 L412.20,25.83 L412.70,25.77 L413.20,25.70 L413.70,25.62 L414.20,25.54 L414.70,25.45 L415.20,25.35 L415.70,25.26 L416.20,25.16 L416.70,25.06 L417.20,24.96 L417.70,24.86 L418.20,24.76 L418.70,24.67 L419.20,24.58 L419.70,24.50 L420.20,24.42 L420.70,24.34 L421.20,24.28 L421.70,24.22 L422.20,24.17 L422.70,24.14 L423.20,24.11 L423.70,24.10 L424.20,24.11 L424.70,24.17 L425.20,24.29 L425.70,24.47 L426.20,24.69 L426.70,24.96 L427.20,25.28 L427.70,25.65 L428.20,26.05 L428.70,26.50 L429.20,27.28 L429.70,28.58 L430.20,30.25 L430.70,32.14 L431.20,34.12 L431.70,37.07 L432.20,40.73 L432.70,44.17 L433.20,46.46 L433.70,46.69 L434.20,44.62 L434.70,41.21 L435.20,37.48 L435.70,34.47 L436.20,32.81 L436.70,31.43 L437.20,30.19 L437.70,29.08 L438.20,28.14 L438.70,27.36 L439.20,26.77 L439.70,26.35 L440.20,25.98 L440.70,25.67 L441.20,25.44 L441.70,25.31 L442.20,25.32 L442.70,25.45 L443.20,25.64 L443.70,25.87 L444.20,26.10 L444.70,26.45 L445.20,26.87 L445.70,27.27 L446.20,27.58 L446.70,27.70 L447.20,27.44 L447.70,26.85 L448.20,26.24 L448.70,25.89 L449.20,25.63 L449.70,25.43 L450.20,25.30 L450.70,25.21 L451.20,25.13 L451.70,25.05 L452.20,24.98 L452.70,24.91 L453.20,24.85 L453.70,24.80 L454.20,24.75 L454.70,24.71 L455.20,24.67 L455.70,24.64 L456.20,24.62 L456.70,24.61 L457.20,24.60 L457.70,24.60 L458.20,24.60 L458.70,24.61 L459.20,24.61 L459.70,24.62 L460.20,24.64 L460.70,24.65 L461.20,24.67 L461.70,24.69 L462.20,24.71 L462.70,24.74 L463.20,24.77 L463.70,24.81 L464.20,24.85 L464.70,24.89 L465.20,24.93 L465.70,24.98 L466.20,25.04 L466.70,25.10 L467.20,25.16 L467.70,25.23 L468.20,25.30 L468.70,25.48 L469.20,25.84 L469.70,26.38 L470.20,27.06 L470.70,27.92 L471.20,30.25 L471.70,33.82 L472.20,37.51 L472.70,40.22 L473.20,41.04 L473.70,41.28 L474.20,41.44 L474.70,41.55 L475.20,41.67 L475.70,41.86 L476.20,42.19 L476.70,43.20 L477.20,44.93 L477.70,47.10 L478.20,49.43 L478.70,51.64 L479.20,53.52 L479.70,55.41 L480.20,57.35 L480.70,59.26 L481.20,61.08 L481.70,62.72 L482.20,64.11 L482.70,65.22 L483.20,66.26 L483.70,67.29 L484.20,68.25 L484.70,69.11 L485.20,69.83 L485.70,70.38 L486.20,70.71 L486.70,70.80 L487.20,70.75 L487.70,70.66 L488.20,70.53 L488.70,70.39 L489.20,70.27 L489.70,70.16 L490.20,70.11 L490.70,70.17 L491.20,70.56 L491.70,71.23 L492.20,72.11 L492.70,73.12 L493.20,74.21 L493.70,75.28 L494.20,76.27 L494.70,77.14 L495.20,78.01 L495.70,78.92 L496.20,79.82 L496.70,80.71 L497.20,81.53 L497.70,82.28 L498.20,82.92 L498.70,83.58 L499.20,83.99 L499.70,83.47 L500.20,81.70 L500.70,79.37 L501.20,77.18 L501.70,74.40 L502.20,65.34 L502.70,49.23 L503.20,22.00" stroke="#f7860f" stroke-width="1.75"/>
<path d="M300.20,101.70 L300.70,101.79 L301.20,101.89 L301.70,101.99 L302.20,102.09 L302.70,102.19 L303.20,102.29 L303.70,102.40 L304.20,102.50 L304.70,102.61 L305.20,102.72 L305.70,102.83 L306.20,102.95 L306.70,103.06 L307.20,103.18 L307.70,103.29 L308.20,103.41 L308.70,103.53 L309.20,103.65 L309.70,103.77 L310.20,103.88 L310.70,103.98 L311.20,104.08 L311.70,104.17 L312.20,104.27 L312.70,104.36 L313.20,104.46 L313.70,104.57 L314.20,104.69 L314.70,104.82 L315.20,104.96 L315.70,105.12 L316.20,105.31 L316.70,105.51 L317.20,105.74 L317.70,106.00 L318.20,106.46 L318.70,107.26 L319.20,108.31 L319.70,109.53 L320.20,110.85 L320.70,112.19 L321.20,113.46 L321.70,114.70 L322.20,116.06 L322.70,117.48 L323.20,118.93 L323.70,120.35 L324.20,121.68 L324.70,122.87 L325.20,123.91 L325.70,124.90 L326.20,125.85 L326.70,126.75 L327.20,127.57 L327.70,128.31 L328.20,128.96 L328.70,129.51 L329.20,130.06 L329.70,130.59 L330.20,131.09 L330.70,131.51 L331.20,131.84 L331.70,132.05 L332.20,132.10 L332.70,132.05 L333.20,131.94 L333.70,131.77 L334.20,131.55 L334.70,131.30 L335.20,131.02 L335.70,130.72 L336.20,130.40 L336.70,130.08 L337.20,129.77 L337.70,129.47 L338.20,129.19 L338.70,128.91 L339.20,128.63 L339.70,128.34 L340.20,128.05 L340.70,127.75 L341.20,127.44 L341.70,127.12 L342.20,126.79 L342.70,126.44 L343.20,126.09 L343.70,125.72 L344.20,125.33 L344.70,124.92 L345.20,124.50 L345.70,124.03 L346.20,123.50 L346.70,122.91 L347.20,122.28 L347.70,121.62 L348.20,120.93 L348.70,120.23 L349.20,119.52 L349.70,118.82 L350.20,118.14 L350.70,117.49 L351.20,116.87 L351.70,116.30 L352.20,115.79 L352.70,115.33 L353.20,114.89 L353.70,114.46 L354.20,114.05 L354.70,113.64 L355.20,113.25 L355.70,112.87 L356.20,112.49 L356.70,112.13 L357.20,111.78 L357.70,111.44 L358.20,111.11 L358.70,110.79 L359.20,110.48 L359.70,110.17 L360.20,109.88 L360.70,109.60 L361.20,109.32 L361.70,109.06 L362.20,108.80 L362.70,108.54 L363.20,108.28 L363.70,108.03 L364.20,107.77 L364.70,107.52 L365.20,107.27 L365.70,107.03 L366.20,106.79 L366.70,106.55 L367.20,106.32 L367.70,106.10 L368.20,105.89 L368.70,105.68 L369.20,105.48 L369.70,105.28 L370.20,105.10 L370.70,104.93 L371.20,104.77 L371.70,104.62 L372.20,104.48 L372.70,104.36 L373.20,104.25 L373.70,104.15 L374.20,104.07 L374.70,103.99 L375.20,103.91 L375.70,103.83 L376.20,103.76 L376.70,103.68 L377.20,103.61 L377.70,103.54 L378.20,103.47 L378.70,103.41 L379.20,103.35 L379.70,103.29 L380.20,103.23 L380.70,103.18 L381.20,103.13 L381.70,103.09 L382.20,103.05 L382.70,103.01 L383.20,102.98 L383.70,102.95 L384.20,102.93 L384.70,102.92 L385.20,102.91 L385.70,102.90 L386.20,102.90 L386.70,102.90 L387.20,102.90 L387.70,102.90 L388.20,102.90 L388.70,102.90 L389.20,102.90 L389.70,102.90 L390.20,102.90 L390.70,102.90 L391.20,102.90 L391.70,102.90 L392.20,102.90 L392.70,102.90 L393.20,102.90 L393.70,102.90 L394.20,102.90 L394.70,102.90 L395.20,102.90 L395.70,102.90 L396.20,102.90 L396.70,102.90 L397.20,102.90 L397.70,102.90 L398.20,102.90 L398.70,102.90 L399.20,102.90 L399.70,102.90 L400.20,102.90 L400.70,102.90 L401.20,102.90 L401.70,102.90 L402.20,102.90 L402.70,102.90 L403.20,102.90 L403.70,102.90 L404.20,102.90 L404.70,102.90 L405.20,102.90 L405.70,102.90 L406.20,102.89 L406.70,102.88 L407.20,102.87 L407.70,102.86 L408.20,102.85 L408.70,102.83 L409.20,102.81 L409.70,102.79 L410.20,102.77 L410.70,102.75 L411.20,102.72 L411.70,102.70 L412.20,102.67 L412.70,102.65 L413.20,102.62 L413.70,102.59 L414.20,102.56 L414.70,102.54 L415.20,102.51 L415.70,102.48 L416.20,102.45 L416.70,102.43 L417.20,102.40 L417.70,102.38 L418.20,102.35 L418.70,102.33 L419.20,102.31 L419.70,102.29 L420.20,102.27 L420.70,102.25 L421.20,102.24 L421.70,102.23 L422.20,102.22 L422.70,102.21 L423.20,102.20 L423.70,102.20 L424.20,102.22 L424.70,102.31 L425.20,102.49 L425.70,102.74 L426.20,103.06 L426.70,103.43 L427.20,103.85 L427.70,104.30 L428.20,104.79 L428.70,105.30 L429.20,105.99 L429.70,106.95 L430.20,108.07 L430.70,109.22 L431.20,110.32 L431.70,111.65 L432.20,113.04 L432.70,114.01 L433.20,114.14 L433.70,113.59 L434.20,112.61 L434.70,111.42 L435.20,110.21 L435.70,109.20 L436.20,108.50 L436.70,107.81 L437.20,107.12 L437.70,106.45 L438.20,105.82 L438.70,105.26 L439.20,104.79 L439.70,104.42 L440.20,104.18 L440.70,104.10 L441.20,104.19 L441.70,104.44 L442.20,104.80 L442.70,105.22 L443.20,105.66 L443.70,106.09 L444.20,106.44 L444.70,106.75 L445.20,107.08 L445.70,107.39 L446.20,107.61 L446.70,107.70 L447.20,107.46 L447.70,106.85 L448.20,105.99 L448.70,105.02 L449.20,104.10 L449.70,103.34 L450.20,102.90 L450.70,102.67 L451.20,102.44 L451.70,102.24 L452.20,102.04 L452.70,101.86 L453.20,101.70 L453.70,101.55 L454.20,101.41 L454.70,101.30 L455.20,101.20 L455.70,101.12 L456.20,101.06 L456.70,101.02 L457.20,101.00 L457.70,101.02 L458.20,101.13 L458.70,101.33 L459.20,101.59 L459.70,101.91 L460.20,102.26 L460.70,102.64 L461.20,103.01 L461.70,103.37 L462.20,103.70 L462.70,104.03 L463.20,104.40 L463.70,104.79 L464.20,105.20 L464.70,105.59 L465.20,105.98 L465.70,106.33 L466.20,106.63 L466.70,106.88 L467.20,107.07 L467.70,107.22 L468.20,107.35 L468.70,107.46 L469.20,107.57 L469.70,107.66 L470.20,107.75 L470.70,107.81 L471.20,107.88 L471.70,107.97 L472.20,108.19 L472.70,108.67 L473.20,109.37 L473.70,110.26 L474.20,111.31 L474.70,112.48 L475.20,113.73 L475.70,115.04 L476.20,116.37 L476.70,117.84 L477.20,119.56 L477.70,121.53 L478.20,123.77 L478.70,126.32 L479.20,129.34 L479.70,133.91 L480.20,139.41 L480.70,144.78 L481.20,148.99 L481.70,151.80 L482.20,154.33 L482.70,156.49 L483.20,158.16 L483.70,159.20 L484.20,159.85 L484.70,160.44 L485.20,160.95 L485.70,161.37 L486.20,161.69 L486.70,161.91 L487.20,162.00 L487.70,161.99 L488.20,161.97 L488.70,161.93 L489.20,161.86 L489.70,161.78 L490.20,161.69 L490.70,161.57 L491.20,161.44 L491.70,161.30 L492.20,161.13 L492.70,160.96 L493.20,160.76 L493.70,160.56 L494.20,160.34 L494.70,160.11 L495.20,159.86 L495.70,159.60 L496.20,159.28 L496.70,158.82 L497.20,158.22 L497.70,157.45 L498.20,156.50 L498.70,155.32 L499.20,152.93 L499.70,149.31 L500.20,145.04 L500.70,140.71 L501.20,136.68 L501.70,132.14 L502.20,126.19 L502.70,117.89 L503.20,100.00" stroke="#17801a" stroke-width="1.75"/>
<path d="M300.20,184.90 L300.70,184.90 L301.20,184.90 L301.70,184.90 L302.20,184.90 L302.70,184.90 L303.20,184.90 L303.70,184.90 L304.20,184.90 L304.70,184.90 L305.20,184.90 L305.70,184.90 L306.20,184.90 L306.70,184.90 L307.20,184.90 L307.70,184.90 L308.20,184.90 L308.70,184.90 L309.20,184.90 L309.70,184.90 L310.20,184.90 L310.70,184.90 L311.20,184.90 L311.70,184.90 L312.20,184.90 L312.70,184.90 L313.20,184.90 L313.70,184.90 L314.20,184.90 L314.70,184.90 L315.20,184.90 L315.70,185.00 L316.20,185.38 L316.70,185.99 L317.20,186.78 L317.70,187.70 L318.20,189.31 L318.70,191.93 L319.20,195.12 L319.70,198.44 L320.20,201.48 L320.70,204.49 L321.20,207.60 L321.70,210.69 L322.20,213.60 L322.70,216.23 L323.20,218.77 L323.70,221.20 L324.20,223.42 L324.70,225.34 L325.20,226.92 L325.70,228.36 L326.20,229.68 L326.70,230.89 L327.20,232.00 L327.70,233.00 L328.20,233.90 L328.70,234.73 L329.20,235.57 L329.70,236.40 L330.20,237.13 L330.70,237.68 L331.20,237.97 L331.70,237.98 L332.20,237.89 L332.70,237.74 L333.20,237.52 L333.70,237.26 L334.20,236.96 L334.70,236.65 L335.20,236.32 L335.70,236.00 L336.20,235.66 L336.70,235.28 L337.20,234.86 L337.70,234.41 L338.20,233.92 L338.70,233.39 L339.20,232.83 L339.70,232.24 L340.20,231.62 L340.70,230.97 L341.20,230.30 L341.70,229.60 L342.20,228.83 L342.70,227.94 L343.20,226.96 L343.70,225.91 L344.20,224.82 L344.70,223.70 L345.20,222.57 L345.70,221.47 L346.20,220.41 L346.70,219.39 L347.20,218.35 L347.70,217.29 L348.20,216.21 L348.70,215.14 L349.20,214.07 L349.70,213.02 L350.20,212.00 L350.70,211.02 L351.20,210.09 L351.70,209.21 L352.20,208.40 L352.70,207.66 L353.20,206.96 L353.70,206.29 L354.20,205.65 L354.70,205.04 L355.20,204.45 L355.70,203.87 L356.20,203.32 L356.70,202.77 L357.20,202.24 L357.70,201.71 L358.20,201.18 L358.70,200.66 L359.20,200.13 L359.70,199.59 L360.20,199.05 L360.70,198.49 L361.20,197.94 L361.70,197.38 L362.20,196.83 L362.70,196.27 L363.20,195.73 L363.70,195.19 L364.20,194.66 L364.70,194.15 L365.20,193.66 L365.70,193.18 L366.20,192.72 L366.70,192.29 L367.20,191.89 L367.70,191.51 L368.20,191.16 L368.70,190.83 L369.20,190.50 L369.70,190.17 L370.20,189.85 L370.70,189.54 L371.20,189.24 L371.70,188.95 L372.20,188.68 L372.70,188.41 L373.20,188.17 L373.70,187.93 L374.20,187.71 L374.70,187.51 L375.20,187.33 L375.70,187.17 L376.20,187.03 L376.70,186.90 L377.20,186.77 L377.70,186.65 L378.20,186.53 L378.70,186.41 L379.20,186.29 L379.70,186.18 L380.20,186.07 L380.70,185.96 L381.20,185.86 L381.70,185.75 L382.20,185.66 L382.70,185.57 L383.20,185.48 L383.70,185.40 L384.20,185.32 L384.70,185.25 L385.20,185.18 L385.70,185.12 L386.20,185.07 L386.70,185.02 L387.20,184.99 L387.70,184.95 L388.20,184.93 L388.70,184.91 L389.20,184.90 L389.70,184.97 L390.20,185.62 L390.70,186.65 L391.20,187.68 L391.70,188.33 L392.20,188.34 L392.70,188.01 L393.20,187.48 L393.70,186.85 L394.20,186.22 L394.70,185.69 L395.20,185.36 L395.70,185.30 L396.20,185.34 L396.70,185.40 L397.20,185.48 L397.70,185.58 L398.20,185.69 L398.70,185.79 L399.20,185.89 L399.70,185.97 L400.20,186.02 L400.70,186.07 L401.20,186.12 L401.70,186.17 L402.20,186.22 L402.70,186.26 L403.20,186.31 L403.70,186.35 L404.20,186.38 L404.70,186.42 L405.20,186.45 L405.70,186.47 L406.20,186.49 L406.70,186.50 L407.20,186.50 L407.70,186.49 L408.20,186.46 L408.70,186.41 L409.20,186.35 L409.70,186.27 L410.20,186.18 L410.70,186.08 L411.20,185.97 L411.70,185.84 L412.20,185.71 L412.70,185.58 L413.20,185.43 L413.70,185.29 L414.20,185.14 L414.70,185.00 L415.20,184.85 L415.70,184.71 L416.20,184.57 L416.70,184.43 L417.20,184.31 L417.70,184.19 L418.20,184.08 L418.70,183.98 L419.20,183.89 L419.70,183.82 L420.20,183.77 L420.70,183.73 L421.20,183.70 L421.70,183.70 L422.20,183.73 L422.70,183.79 L423.20,183.89 L423.70,184.02 L424.20,184.18 L424.70,184.37 L425.20,184.59 L425.70,184.84 L426.20,185.12 L426.70,185.44 L427.20,185.78 L427.70,186.20 L428.20,187.06 L428.70,188.36 L429.20,189.97 L429.70,191.76 L430.20,193.82 L430.70,196.69 L431.20,199.87 L431.70,202.80 L432.20,205.44 L432.70,208.18 L433.20,210.12 L433.70,210.35 L434.20,208.93 L434.70,206.61 L435.20,204.15 L435.70,202.05 L436.20,199.76 L436.70,197.37 L437.20,195.07 L437.70,193.06 L438.20,191.53 L438.70,190.44 L439.20,189.39 L439.70,188.39 L440.20,187.47 L440.70,186.64 L441.20,185.93 L441.70,185.35 L442.20,184.92 L442.70,184.67 L443.20,184.60 L443.70,184.63 L444.20,184.70 L444.70,184.81 L445.20,184.97 L445.70,185.16 L446.20,185.56 L446.70,187.27 L447.20,189.44 L447.70,190.75 L448.20,190.11 L448.70,188.04 L449.20,185.84 L449.70,184.65 L450.20,184.10 L450.70,184.03 L451.20,183.97 L451.70,183.92 L452.20,183.88 L452.70,183.84 L453.20,183.80 L453.70,183.78 L454.20,183.75 L454.70,183.74 L455.20,183.72 L455.70,183.71 L456.20,183.71 L456.70,183.70 L457.20,183.70 L457.70,183.70 L458.20,183.71 L458.70,183.71 L459.20,183.73 L459.70,183.75 L460.20,183.77 L460.70,183.80 L461.20,183.83 L461.70,183.87 L462.20,183.92 L462.70,183.97 L463.20,184.02 L463.70,184.09 L464.20,184.16 L464.70,184.23 L465.20,184.32 L465.70,184.40 L466.20,184.50 L466.70,184.61 L467.20,184.72 L467.70,184.84 L468.20,184.96 L468.70,185.10 L469.20,185.24 L469.70,185.45 L470.20,185.93 L470.70,186.66 L471.20,187.59 L471.70,188.67 L472.20,190.27 L472.70,192.91 L473.20,195.97 L473.70,198.85 L474.20,200.90 L474.70,202.08 L475.20,202.92 L475.70,203.69 L476.20,204.64 L476.70,206.04 L477.20,208.56 L477.70,212.06 L478.20,216.09 L478.70,220.15 L479.20,223.91 L479.70,228.18 L480.20,232.59 L480.70,236.41 L481.20,238.92 L481.70,240.10 L482.20,241.11 L482.70,241.97 L483.20,242.68 L483.70,243.25 L484.20,243.66 L484.70,243.93 L485.20,244.08 L485.70,244.20 L486.20,244.32 L486.70,244.43 L487.20,244.53 L487.70,244.62 L488.20,244.70 L488.70,244.78 L489.20,244.84 L489.70,244.90 L490.20,244.95 L490.70,245.00 L491.20,245.03 L491.70,245.06 L492.20,245.08 L492.70,245.09 L493.20,245.10 L493.70,245.10 L494.20,245.09 L494.70,245.07 L495.20,245.05 L495.70,245.01 L496.20,244.96 L496.70,244.91 L497.20,244.84 L497.70,244.75 L498.20,244.65 L498.70,244.54 L499.20,244.41 L499.70,244.27 L500.20,244.11 L500.70,243.80 L501.20,242.17 L501.70,238.99 L502.20,234.29 L502.70,224.18 L503.20,201.00" stroke="#1212ee" stroke-width="1.75"/>
<path d="M300.20,269.60 L300.70,269.60 L301.20,269.60 L301.70,269.60 L302.20,269.60 L302.70,269.60 L303.20,269.60 L303.70,269.60 L304.20,269.60 L304.70,269.60 L305.20,269.60 L305.70,269.60 L306.20,269.60 L306.70,269.60 L307.20,269.60 L307.70,269.60 L308.20,269.60 L308.70,269.60 L309.20,269.60 L309.70,269.60 L310.20,269.60 L310.70,269.60 L311.20,269.60 L311.70,269.60 L312.20,269.60 L312.70,269.60 L313.20,269.60 L313.70,269.60 L314.20,269.60 L314.70,269.60 L315.20,269.60 L315.70,269.70 L316.20,270.07 L316.70,270.69 L317.20,271.51 L317.70,272.50 L318.20,274.59 L318.70,278.07 L319.20,281.90 L319.70,285.37 L320.20,289.06 L320.70,292.68 L321.20,295.86 L321.70,298.44 L322.20,300.83 L322.70,303.02 L323.20,305.01 L323.70,306.81 L324.20,308.40 L324.70,309.88 L325.20,311.30 L325.70,312.61 L326.20,313.78 L326.70,314.75 L327.20,315.49 L327.70,316.03 L328.20,316.54 L328.70,317.01 L329.20,317.44 L329.70,317.80 L330.20,318.09 L330.70,318.29 L331.20,318.39 L331.70,318.39 L332.20,318.35 L332.70,318.28 L333.20,318.18 L333.70,318.05 L334.20,317.90 L334.70,317.73 L335.20,317.54 L335.70,317.34 L336.20,317.12 L336.70,316.90 L337.20,316.67 L337.70,316.44 L338.20,316.20 L338.70,315.93 L339.20,315.62 L339.70,315.26 L340.20,314.87 L340.70,314.46 L341.20,314.01 L341.70,313.55 L342.20,313.07 L342.70,312.58 L343.20,312.08 L343.70,311.58 L344.20,311.08 L344.70,310.58 L345.20,310.10 L345.70,309.62 L346.20,309.12 L346.70,308.61 L347.20,308.10 L347.70,307.57 L348.20,307.03 L348.70,306.49 L349.20,305.95 L349.70,305.40 L350.20,304.84 L350.70,304.29 L351.20,303.73 L351.70,303.18 L352.20,302.62 L352.70,302.07 L353.20,301.51 L353.70,300.95 L354.20,300.38 L354.70,299.82 L355.20,299.24 L355.70,298.67 L356.20,298.10 L356.70,297.52 L357.20,296.94 L357.70,296.36 L358.20,295.79 L358.70,295.21 L359.20,294.63 L359.70,294.06 L360.20,293.48 L360.70,292.91 L361.20,292.34 L361.70,291.77 L362.20,291.20 L362.70,290.62 L363.20,290.05 L363.70,289.47 L364.20,288.90 L364.70,288.32 L365.20,287.75 L365.70,287.18 L366.20,286.61 L366.70,286.05 L367.20,285.49 L367.70,284.93 L368.20,284.38 L368.70,283.84 L369.20,283.30 L369.70,282.76 L370.20,282.20 L370.70,281.64 L371.20,281.06 L371.70,280.48 L372.20,279.91 L372.70,279.33 L373.20,278.76 L373.70,278.19 L374.20,277.64 L374.70,277.10 L375.20,276.58 L375.70,276.08 L376.20,275.61 L376.70,275.16 L377.20,274.74 L377.70,274.36 L378.20,274.01 L378.70,273.70 L379.20,273.41 L379.70,273.12 L380.20,272.83 L380.70,272.55 L381.20,272.26 L381.70,271.99 L382.20,271.72 L382.70,271.45 L383.20,271.20 L383.70,270.96 L384.20,270.73 L384.70,270.51 L385.20,270.31 L385.70,270.12 L386.20,269.96 L386.70,269.81 L387.20,269.68 L387.70,269.57 L388.20,269.49 L388.70,269.44 L389.20,269.41 L389.70,269.40 L390.20,269.41 L390.70,269.42 L391.20,269.45 L391.70,269.48 L392.20,269.51 L392.70,269.55 L393.20,269.60 L393.70,269.64 L394.20,269.70 L394.70,269.75 L395.20,269.80 L395.70,269.86 L396.20,269.92 L396.70,269.97 L397.20,270.03 L397.70,270.08 L398.20,270.13 L398.70,270.19 L399.20,270.25 L399.70,270.32 L400.20,270.39 L400.70,270.46 L401.20,270.53 L401.70,270.60 L402.20,270.67 L402.70,270.74 L403.20,270.81 L403.70,270.87 L404.20,270.92 L404.70,270.97 L405.20,271.02 L405.70,271.06 L406.20,271.11 L406.70,271.15 L407.20,271.19 L407.70,271.23 L408.20,271.26 L408.70,271.28 L409.20,271.30 L409.70,271.30 L410.20,271.29 L410.70,271.27 L411.20,271.24 L411.70,271.20 L412.20,271.15 L412.70,271.09 L413.20,271.03 L413.70,270.96 L414.20,270.89 L414.70,270.81 L415.20,270.72 L415.70,270.64 L416.20,270.55 L416.70,270.46 L417.20,270.37 L417.70,270.28 L418.20,270.19 L418.70,270.11 L419.20,270.03 L419.70,269.95 L420.20,269.88 L420.70,269.82 L421.20,269.76 L421.70,269.71 L422.20,269.67 L422.70,269.63 L423.20,269.61 L423.70,269.60 L424.20,269.62 L424.70,269.72 L425.20,269.90 L425.70,270.17 L426.20,270.51 L426.70,270.92 L427.20,271.39 L427.70,271.92 L428.20,272.50 L428.70,273.50 L429.20,275.12 L429.70,277.12 L430.20,279.25 L430.70,281.31 L431.20,283.83 L431.70,286.79 L432.20,289.73 L432.70,292.19 L433.20,293.72 L433.70,293.87 L434.20,292.57 L434.70,290.34 L435.20,287.73 L435.70,285.30 L436.20,283.38 L436.70,281.43 L437.20,279.46 L437.70,277.55 L438.20,275.78 L438.70,274.25 L439.20,273.04 L439.70,272.20 L440.20,271.46 L440.70,270.78 L441.20,270.20 L441.70,269.75 L442.20,269.47 L442.70,269.40 L443.20,269.51 L443.70,269.74 L444.20,270.04 L444.70,270.38 L445.20,270.72 L445.70,271.02 L446.20,271.22 L446.70,271.30 L447.20,271.28 L447.70,271.24 L448.20,271.17 L448.70,271.08 L449.20,270.97 L449.70,270.84 L450.20,270.70 L450.70,270.54 L451.20,270.38 L451.70,270.22 L452.20,270.05 L452.70,269.88 L453.20,269.72 L453.70,269.56 L454.20,269.42 L454.70,269.28 L455.20,269.16 L455.70,269.06 L456.20,268.98 L456.70,268.93 L457.20,268.90 L457.70,268.99 L458.20,269.49 L458.70,270.35 L459.20,271.47 L459.70,272.75 L460.20,274.09 L460.70,275.38 L461.20,276.58 L461.70,277.90 L462.20,279.36 L462.70,280.87 L463.20,282.36 L463.70,283.74 L464.20,284.93 L464.70,285.86 L465.20,286.54 L465.70,287.08 L466.20,287.56 L466.70,288.10 L467.20,288.78 L467.70,289.75 L468.20,291.35 L468.70,293.46 L469.20,295.89 L469.70,298.39 L470.20,300.75 L470.70,302.77 L471.20,304.67 L471.70,306.57 L472.20,308.42 L472.70,310.17 L473.20,311.79 L473.70,313.21 L474.20,314.40 L474.70,315.43 L475.20,316.41 L475.70,317.33 L476.20,318.19 L476.70,318.98 L477.20,319.70 L477.70,320.34 L478.20,320.89 L478.70,321.36 L479.20,321.75 L479.70,322.11 L480.20,322.44 L480.70,322.68 L481.20,322.80 L481.70,322.80 L482.20,322.80 L482.70,322.80 L483.20,322.79 L483.70,322.79 L484.20,322.78 L484.70,322.78 L485.20,322.77 L485.70,322.76 L486.20,322.75 L486.70,322.74 L487.20,322.73 L487.70,322.71 L488.20,322.70 L488.70,322.68 L489.20,322.67 L489.70,322.65 L490.20,322.63 L490.70,322.60 L491.20,322.58 L491.70,322.56 L492.20,322.53 L492.70,322.50 L493.20,322.47 L493.70,322.44 L494.20,322.41 L494.70,322.37 L495.20,322.34 L495.70,322.30 L496.20,322.23 L496.70,322.10 L497.20,321.91 L497.70,321.66 L498.20,321.35 L498.70,320.98 L499.20,320.56 L499.70,320.08 L500.20,319.55 L500.70,318.94 L501.20,318.03 L501.70,316.58 L502.20,314.35 L502.70,308.72 L503.20,295.00" stroke="#141414" stroke-width="1.75"/>
</g>
<rect x="299.4" y="11.0" width="204.20" height="322.60" fill="none" stroke="#000" stroke-width="1.85"/>
<line x1="299.40" y1="91.70" x2="503.60" y2="91.70" stroke="#000" stroke-width="1.85"/>
<line x1="299.40" y1="172.40" x2="503.60" y2="172.40" stroke="#000" stroke-width="1.85"/>
<line x1="299.40" y1="253.30" x2="503.60" y2="253.30" stroke="#000" stroke-width="1.85"/>
<line x1="322.09" y1="333.60" x2="322.09" y2="331.40" stroke="#141414" stroke-width="1.3"/>
<line x1="344.78" y1="333.60" x2="344.78" y2="329.60" stroke="#141414" stroke-width="1.3"/>
<line x1="367.47" y1="333.60" x2="367.47" y2="331.40" stroke="#141414" stroke-width="1.3"/>
<line x1="390.16" y1="333.60" x2="390.16" y2="329.60" stroke="#141414" stroke-width="1.3"/>
<line x1="412.84" y1="333.60" x2="412.84" y2="331.40" stroke="#141414" stroke-width="1.3"/>
<line x1="435.53" y1="333.60" x2="435.53" y2="329.60" stroke="#141414" stroke-width="1.3"/>
<line x1="458.22" y1="333.60" x2="458.22" y2="331.40" stroke="#141414" stroke-width="1.3"/>
<line x1="480.91" y1="333.60" x2="480.91" y2="329.60" stroke="#141414" stroke-width="1.3"/>
<text transform="translate(299.40,347.80) scale(1.050,1)" font-size="11.00" font-weight="bold" fill="#141414" text-anchor="middle">4000</text>
<text transform="translate(344.78,347.80) scale(1.050,1)" font-size="11.00" font-weight="bold" fill="#141414" text-anchor="middle">3200</text>
<text transform="translate(390.16,347.80) scale(1.050,1)" font-size="11.00" font-weight="bold" fill="#141414" text-anchor="middle">2400</text>
<text transform="translate(435.53,347.80) scale(1.050,1)" font-size="11.00" font-weight="bold" fill="#141414" text-anchor="middle">1600</text>
<text transform="translate(480.91,347.80) scale(1.050,1)" font-size="11.00" font-weight="bold" fill="#141414" text-anchor="middle">800</text>
<text transform="translate(480.32,21.70) scale(1.119,1)" font-size="9.66" font-weight="bold" fill="#f7860f">96 h</text>
<text transform="translate(481.08,103.50) scale(1.010,1)" font-size="10.48" font-weight="bold" fill="#17801a">54 h</text>
<text transform="translate(481.14,183.50) scale(1.007,1)" font-size="10.48" font-weight="bold" fill="#1212ee">36 h</text>
<text transform="translate(481.03,263.60) scale(1.098,1)" font-size="9.66" font-weight="bold" fill="#141414">24 h</text>
<text transform="translate(321.63,329.20) scale(1.155,1)" font-size="10.14" font-weight="bold" fill="#141414">O-H</text>
<text transform="translate(418.05,307.49) scale(1.024,1)" font-size="11.27" font-weight="bold" fill="#141414">H-O-H</text>
<text transform="translate(272.31,18.31) scale(0.850,1)" font-size="19.47" font-weight="bold" fill="#ee1c24" stroke="#ee1c24" stroke-width="0.3">(</text>
<text transform="translate(279.04,18.41) scale(0.846,1)" font-size="19.18" font-weight="bold" fill="#ee1c24" stroke="#ee1c24" stroke-width="0.35">b</text>
<text transform="translate(291.39,18.31) scale(0.850,1)" font-size="19.47" font-weight="bold" fill="#ee1c24" stroke="#ee1c24" stroke-width="0.3">)</text>
<text transform="translate(289.51,240.78) rotate(-90) scale(1.070,1)" font-size="16.50" fill="#141414"><tspan font-weight="bold">Transmittance (%)</tspan></text>
<text transform="translate(313.40,366.25) scale(1.105,1)" font-size="15.37" font-weight="bold" fill="#141414">Wavenumber</text>
<text transform="translate(425.46,366.72) scale(0.842,1)" font-size="16.58" font-weight="normal" fill="#141414" stroke="#141414" stroke-width="0.8">(</text>
<text transform="translate(431.14,366.33) scale(0.982,1)" font-size="16.73" font-weight="bold" fill="#141414">cm</text>
<text transform="translate(456.12,359.60) scale(0.836,1)" font-size="11.30" font-weight="bold" fill="#141414">-1</text>
<text transform="translate(466.43,366.80) scale(0.837,1)" font-size="16.68" font-weight="normal" fill="#141414" stroke="#141414" stroke-width="0.8">)</text>
<g fill="none" stroke-linejoin="round" stroke-linecap="round">
<path d="M535.30,76.56 L535.80,74.78 L536.30,73.54 L536.80,72.28 L537.30,71.14 L537.80,69.63 L538.30,68.41 L538.80,67.48 L539.30,67.13 L539.80,66.64 L540.30,65.52 L540.80,64.42 L541.30,63.90 L541.80,64.13 L542.30,63.21 L542.80,62.19 L543.30,62.30 L543.80,61.66 L544.30,61.56 L544.80,61.37 L545.30,61.08 L545.80,61.22 L546.30,60.75 L546.80,60.24 L547.30,60.01 L547.80,59.45 L548.30,57.93 L548.80,57.60 L549.30,56.73 L549.80,56.52 L550.30,56.01 L550.80,56.41 L551.30,56.39 L551.80,56.31 L552.30,56.09 L552.80,56.28 L553.30,56.07 L553.80,55.87 L554.30,55.85 L554.80,54.65 L555.30,54.30 L555.80,52.94 L556.30,50.77 L556.80,50.04 L557.30,48.22 L557.80,47.11 L558.30,45.31 L558.80,42.62 L559.30,40.92 L559.80,38.66 L560.30,36.88 L560.80,34.33 L561.30,33.30 L561.80,31.08 L562.30,29.69 L562.80,28.24 L563.30,28.21 L563.80,28.06 L564.30,29.66 L564.80,30.78 L565.30,32.81 L565.80,34.79 L566.30,36.43 L566.80,39.22 L567.30,42.36 L567.80,44.15 L568.30,45.76 L568.80,46.49 L569.30,47.40 L569.80,47.76 L570.30,48.39 L570.80,48.98 L571.30,49.31 L571.80,49.28 L572.30,49.95 L572.80,49.30 L573.30,49.27 L573.80,49.11 L574.30,49.60 L574.80,48.96 L575.30,48.49 L575.80,48.11 L576.30,48.22 L576.80,47.40 L577.30,46.93 L577.80,47.08 L578.30,46.04 L578.80,45.65 L579.30,44.96 L579.80,43.95 L580.30,43.11 L580.80,42.52 L581.30,40.94 L581.80,39.69 L582.30,38.52 L582.80,38.05 L583.30,36.89 L583.80,35.82 L584.30,34.28 L584.80,32.95 L585.30,31.62 L585.80,30.57 L586.30,29.87 L586.80,29.08 L587.30,28.94 L587.80,29.61 L588.30,29.71 L588.80,29.91 L589.30,31.91 L589.80,32.60 L590.30,33.30 L590.80,34.83 L591.30,35.41 L591.80,36.13 L592.30,37.08 L592.80,37.90 L593.30,39.06 L593.80,40.06 L594.30,40.13 L594.80,40.60 L595.30,41.21 L595.80,40.45 L596.30,41.03 L596.80,40.99 L597.30,40.87 L597.80,40.97 L598.30,41.34 L598.80,41.51 L599.30,41.24 L599.80,41.40 L600.30,41.54 L600.80,41.31 L601.30,41.35 L601.80,41.06 L602.30,40.87 L602.80,41.05 L603.30,40.45 L603.80,40.04 L604.30,39.95 L604.80,39.19 L605.30,39.09 L605.80,39.16 L606.30,38.84 L606.80,38.86 L607.30,38.14 L607.80,37.41 L608.30,38.14 L608.80,37.58 L609.30,36.62 L609.80,37.02 L610.30,36.28 L610.80,35.37 L611.30,35.43 L611.80,35.03 L612.30,35.28 L612.80,34.18 L613.30,33.95 L613.80,33.53 L614.30,33.06 L614.80,32.41 L615.30,32.23 L615.80,31.94 L616.30,31.24 L616.80,30.21 L617.30,29.59 L617.80,29.43 L618.30,28.67 L618.80,28.23 L619.30,27.49 L619.80,28.22 L620.30,27.56 L620.80,26.66 L621.30,26.89 L621.80,26.69 L622.30,25.26 L622.80,25.53 L623.30,25.31 L623.80,25.38 L624.30,24.94 L624.80,24.73 L625.30,24.66 L625.80,25.14 L626.30,25.16 L626.80,24.29 L627.30,24.11 L627.80,25.14 L628.30,23.99 L628.80,24.06 L629.30,24.20 L629.80,24.30 L630.30,24.44 L630.80,24.23 L631.30,23.84 L631.80,24.25 L632.30,24.19 L632.80,24.72 L633.30,24.21 L633.80,23.89 L634.30,24.07 L634.80,24.91 L635.30,24.42 L635.80,24.06 L636.30,24.62 L636.80,24.90 L637.30,25.36 L637.80,24.79 L638.30,25.37 L638.80,25.47 L639.30,25.07 L639.80,25.24 L640.30,25.83 L640.80,25.79 L641.30,25.49 L641.80,25.27 L642.30,25.44 L642.80,24.97 L643.30,24.89 L643.80,24.56 L644.30,24.72 L644.80,24.59 L645.30,25.34 L645.80,24.35 L646.30,24.70 L646.80,24.63 L647.30,24.10 L647.80,24.42 L648.30,23.33 L648.80,23.92 L649.30,24.05 L649.80,22.98 L650.30,23.26 L650.80,23.83 L651.30,23.35 L651.80,23.01 L652.30,23.15 L652.80,23.03 L653.30,23.35 L653.80,23.21 L654.30,22.95 L654.80,22.81 L655.30,22.98 L655.80,23.44 L656.30,23.33 L656.80,23.70 L657.30,23.83 L657.80,23.91 L658.30,24.54 L658.80,25.40 L659.30,25.67 L659.80,25.75 L660.30,25.84 L660.80,26.56 L661.30,26.50 L661.80,26.47 L662.30,26.39 L662.80,26.45 L663.30,26.28 L663.80,26.28 L664.30,26.04 L664.80,25.91 L665.30,25.49 L665.80,24.87 L666.30,24.67 L666.80,24.56 L667.30,24.05 L667.80,24.05 L668.30,24.00 L668.80,23.20 L669.30,22.74 L669.80,23.49 L670.30,23.05 L670.80,23.21 L671.30,22.61 L671.80,23.55 L672.30,23.28 L672.80,23.07 L673.30,23.06 L673.80,23.27 L674.30,23.26 L674.80,23.31 L675.30,23.15 L675.80,23.96 L676.30,23.67 L676.80,23.80 L677.30,23.91 L677.80,23.27 L678.30,24.23 L678.80,24.07 L679.30,24.17 L679.80,24.36 L680.30,24.12 L680.80,24.72 L681.30,24.31 L681.80,24.29 L682.30,24.33 L682.80,24.65 L683.30,24.82 L683.80,24.41 L684.30,24.12 L684.80,24.88 L685.30,24.22 L685.80,24.87 L686.30,24.47 L686.80,24.25 L687.30,24.23 L687.80,24.53 L688.30,24.63 L688.80,24.27 L689.30,24.59 L689.80,24.90 L690.30,24.19 L690.80,23.89 L691.30,23.90 L691.80,23.79 L692.30,24.01 L692.80,23.98 L693.30,23.81 L693.80,24.39 L694.30,23.48 L694.80,23.90 L695.30,24.95 L695.80,24.70 L696.30,24.60 L696.80,24.65 L697.30,25.11 L697.80,24.81 L698.30,24.75 L698.80,24.44 L699.30,24.87 L699.80,24.75 L700.30,24.85 L700.80,24.93 L701.30,25.22 L701.80,25.23 L702.30,25.67 L702.80,25.10 L703.30,25.54 L703.80,26.23 L704.30,25.76 L704.80,26.19 L705.30,26.24 L705.80,26.36 L706.30,26.25 L706.80,25.68 L707.30,26.06 L707.80,26.08 L708.30,25.78 L708.80,26.15 L709.30,25.96 L709.80,25.88 L710.30,26.48 L710.80,26.45 L711.30,26.30 L711.80,26.26 L712.30,26.42 L712.80,26.50 L713.30,26.53 L713.80,26.68 L714.30,26.60 L714.80,26.88 L715.30,26.96 L715.80,26.94 L716.30,26.67 L716.80,26.72 L717.30,27.07 L717.80,26.92 L718.30,27.01 L718.80,26.31 L719.30,26.29 L719.80,27.24 L720.30,27.28 L720.80,27.64 L721.30,27.49 L721.80,27.39 L722.30,27.37 L722.80,26.99 L723.30,27.74 L723.80,27.35 L724.30,27.74 L724.80,27.71 L725.30,27.79 L725.80,28.04 L726.30,27.70 L726.80,27.82 L727.30,27.79 L727.80,28.06 L728.30,28.80 L728.80,28.34 L729.30,28.94 L729.80,28.98 L730.30,29.09 L730.80,29.24 L731.30,28.82 L731.80,29.34 L732.30,29.79 L732.80,29.16 L733.30,29.39 L733.80,29.22 L734.30,29.55 L734.80,29.16 L735.30,29.98 L735.80,29.41 L736.30,29.08 L736.80,30.10 L737.30,29.87 L737.80,29.75 L738.30,29.77 L738.80,29.52 L739.30,29.57 L739.80,29.87 L740.30,29.94 L740.80,29.95 L741.30,29.74 L741.80,29.55 L742.30,29.63 L742.80,30.03 L743.30,30.13 L743.80,29.60 L743.90,29.56" stroke="#f7860f" stroke-width="2.0"/>
<path d="M535.30,165.28 L535.80,162.13 L536.30,159.39 L536.80,156.84 L537.30,154.65 L537.80,152.62 L538.30,151.01 L538.80,149.71 L539.30,148.82 L539.80,147.87 L540.30,146.51 L540.80,144.97 L541.30,143.42 L541.80,141.33 L542.30,137.66 L542.80,134.61 L543.30,134.55 L543.80,136.69 L544.30,139.93 L544.80,142.13 L545.30,143.65 L545.80,145.12 L546.30,145.67 L546.80,145.55 L547.30,145.48 L547.80,145.20 L548.30,144.42 L548.80,144.18 L549.30,143.64 L549.80,143.40 L550.30,142.96 L550.80,142.97 L551.30,142.82 L551.80,142.66 L552.30,142.42 L552.80,142.38 L553.30,142.09 L553.80,141.81 L554.30,141.65 L554.80,140.59 L555.30,139.67 L555.80,138.03 L556.30,135.84 L556.80,134.29 L557.30,132.17 L557.80,130.50 L558.30,128.55 L558.80,126.02 L559.30,123.95 L559.80,121.66 L560.30,119.76 L560.80,117.72 L561.30,116.48 L561.80,114.65 L562.30,113.35 L562.80,112.16 L563.30,111.84 L563.80,111.65 L564.30,112.54 L564.80,113.42 L565.30,114.96 L565.80,116.65 L566.30,118.17 L566.80,120.70 L567.30,124.09 L567.80,127.27 L568.30,130.57 L568.80,133.08 L569.30,134.58 L569.80,135.35 L570.30,136.22 L570.80,137.01 L571.30,137.61 L571.80,137.95 L572.30,138.55 L572.80,138.39 L573.30,138.40 L573.80,138.30 L574.30,138.47 L574.80,138.03 L575.30,137.64 L575.80,137.28 L576.30,137.13 L576.80,136.50 L577.30,136.03 L577.80,135.87 L578.30,135.13 L578.80,134.66 L579.30,133.99 L579.80,133.11 L580.30,132.27 L580.80,131.52 L581.30,130.25 L581.80,129.12 L582.30,128.01 L582.80,127.25 L583.30,126.24 L583.80,125.18 L584.30,123.76 L584.80,122.35 L585.30,120.89 L585.80,119.54 L586.30,118.38 L586.80,117.22 L587.30,116.46 L587.80,116.22 L588.30,115.89 L588.80,116.10 L589.30,117.73 L589.80,119.09 L590.30,120.72 L590.80,122.92 L591.30,124.61 L591.80,126.09 L592.30,127.34 L592.80,128.53 L593.30,129.94 L593.80,131.29 L594.30,132.18 L594.80,133.23 L595.30,134.18 L595.80,134.19 L596.30,134.79 L596.80,135.06 L597.30,135.29 L597.80,135.62 L598.30,136.06 L598.80,136.41 L599.30,136.51 L599.80,136.83 L600.30,137.13 L600.80,137.24 L601.30,137.47 L601.80,137.52 L602.30,137.61 L602.80,137.86 L603.30,137.69 L603.80,137.61 L604.30,137.66 L604.80,137.35 L605.30,137.36 L605.80,137.43 L606.30,137.29 L606.80,137.30 L607.30,136.92 L607.80,136.54 L608.30,136.89 L608.80,136.58 L609.30,136.07 L609.80,136.24 L610.30,135.84 L610.80,135.37 L611.30,135.36 L611.80,135.08 L612.30,135.08 L612.80,134.38 L613.30,134.07 L613.80,133.65 L614.30,133.19 L614.80,132.65 L615.30,132.34 L615.80,131.98 L616.30,131.42 L616.80,130.69 L617.30,130.17 L617.80,129.87 L618.30,129.28 L618.80,128.82 L619.30,128.13 L619.80,128.10 L620.30,127.32 L620.80,126.39 L621.30,126.02 L621.80,125.43 L622.30,124.23 L622.80,123.90 L623.30,123.35 L623.80,123.00 L624.30,122.45 L624.80,122.08 L625.30,121.85 L625.80,122.00 L626.30,122.03 L626.80,121.70 L627.30,121.79 L627.80,122.54 L628.30,122.26 L628.80,122.64 L629.30,123.09 L629.80,123.54 L630.30,124.04 L630.80,124.37 L631.30,124.62 L631.80,125.27 L632.30,125.66 L632.80,126.31 L633.30,126.41 L633.80,126.57 L634.30,126.96 L634.80,127.71 L635.30,127.79 L635.80,127.94 L636.30,128.56 L636.80,129.04 L637.30,129.62 L637.80,129.69 L638.30,130.33 L638.80,130.73 L639.30,130.88 L639.80,131.32 L640.30,131.96 L640.80,132.28 L641.30,132.45 L641.80,132.66 L642.30,133.03 L642.80,133.07 L643.30,133.30 L643.80,133.42 L644.30,133.78 L644.80,133.99 L645.30,134.64 L645.80,134.40 L646.30,134.82 L646.80,135.02 L647.30,134.96 L647.80,135.32 L648.30,134.94 L648.80,135.38 L649.30,135.57 L649.80,135.13 L650.30,135.33 L650.80,135.66 L651.30,135.46 L651.80,135.34 L652.30,135.44 L652.80,135.42 L653.30,135.61 L653.80,135.57 L654.30,135.46 L654.80,135.40 L655.30,135.49 L655.80,135.70 L656.30,135.55 L656.80,135.66 L657.30,135.89 L657.80,136.32 L658.30,137.19 L658.80,138.28 L659.30,139.13 L659.80,139.86 L660.30,140.54 L660.80,141.40 L661.30,141.69 L661.80,141.79 L662.30,141.86 L662.80,142.01 L663.30,142.06 L663.80,142.21 L664.30,142.24 L664.80,142.34 L665.30,142.29 L665.80,142.14 L666.30,142.21 L666.80,142.31 L667.30,142.21 L667.80,142.36 L668.30,142.47 L668.80,142.20 L669.30,142.08 L669.80,142.54 L670.30,142.39 L670.80,142.53 L671.30,142.26 L671.80,142.75 L672.30,142.65 L672.80,142.57 L673.30,142.60 L673.80,142.74 L674.30,142.79 L674.80,142.87 L675.30,142.86 L675.80,143.34 L676.30,143.28 L676.80,143.44 L677.30,143.60 L677.80,143.38 L678.30,143.98 L678.80,144.01 L679.30,144.19 L679.80,144.41 L680.30,144.43 L680.80,144.87 L681.30,144.80 L681.80,144.94 L682.30,145.11 L682.80,145.42 L683.30,145.65 L683.80,145.59 L684.30,145.59 L684.80,146.10 L685.30,145.90 L685.80,146.34 L686.30,146.25 L686.80,146.25 L687.30,146.35 L687.80,146.60 L688.30,146.75 L688.80,146.67 L689.30,146.93 L689.80,147.17 L690.30,146.91 L690.80,146.84 L691.30,146.93 L691.80,146.95 L692.30,147.14 L692.80,147.20 L693.30,147.18 L693.80,147.54 L694.30,147.14 L694.80,147.41 L695.30,147.99 L695.80,147.93 L696.30,147.93 L696.80,148.01 L697.30,148.30 L697.80,148.20 L698.30,148.23 L698.80,148.14 L699.30,148.42 L699.80,148.43 L700.30,148.55 L700.80,148.66 L701.30,148.88 L701.80,148.96 L702.30,149.27 L702.80,149.07 L703.30,149.37 L703.80,149.80 L704.30,149.66 L704.80,149.97 L705.30,150.09 L705.80,150.24 L706.30,150.28 L706.80,150.09 L707.30,150.38 L707.80,150.49 L708.30,150.43 L708.80,150.71 L709.30,150.70 L709.80,150.75 L710.30,151.13 L710.80,151.19 L711.30,151.19 L711.80,151.24 L712.30,151.39 L712.80,151.49 L713.30,151.57 L713.80,151.70 L714.30,151.72 L714.80,151.91 L715.30,152.01 L715.80,152.05 L716.30,151.97 L716.80,152.05 L717.30,152.27 L717.80,152.25 L718.30,152.34 L718.80,152.05 L719.30,152.09 L719.80,152.62 L720.30,152.70 L720.80,152.94 L721.30,152.92 L721.80,152.93 L722.30,152.99 L722.80,152.87 L723.30,153.31 L723.80,153.20 L724.30,153.48 L724.80,153.57 L725.30,153.72 L725.80,153.95 L726.30,153.90 L726.80,154.07 L727.30,154.15 L727.80,154.37 L728.30,154.83 L728.80,154.66 L729.30,155.03 L729.80,155.09 L730.30,155.19 L730.80,155.29 L731.30,155.09 L731.80,155.38 L732.30,155.63 L732.80,155.37 L733.30,155.54 L733.80,155.51 L734.30,155.74 L734.80,155.60 L735.30,156.07 L735.80,155.84 L736.30,155.73 L736.80,156.29 L737.30,156.22 L737.80,156.21 L738.30,156.27 L738.80,156.18 L739.30,156.25 L739.80,156.43 L740.30,156.50 L740.80,156.54 L741.30,156.46 L741.80,156.38 L742.30,156.44 L742.80,156.65 L743.30,156.71 L743.80,156.45 L743.90,156.43" stroke="#17801a" stroke-width="2.0"/>
<path d="M535.30,247.82 L535.80,247.53 L536.30,247.27 L536.80,246.86 L537.30,246.37 L537.80,245.67 L538.30,245.00 L538.80,244.24 L539.30,243.39 L539.80,242.07 L540.30,239.32 L540.80,230.51 L541.30,218.02 L541.80,200.26 L542.30,186.50 L542.80,179.11 L543.30,178.65 L543.80,186.27 L544.30,198.02 L544.80,220.34 L545.30,234.24 L545.80,239.16 L546.30,242.59 L546.80,244.62 L547.30,245.37 L547.80,245.57 L548.30,245.46 L548.80,245.73 L549.30,245.76 L549.80,245.94 L550.30,245.92 L550.80,246.13 L551.30,246.19 L551.80,246.21 L552.30,246.18 L552.80,246.29 L553.30,246.25 L553.80,246.24 L554.30,246.41 L554.80,246.29 L555.30,246.52 L555.80,246.47 L556.30,246.19 L556.80,246.40 L557.30,246.25 L557.80,246.34 L558.30,246.31 L558.80,246.08 L559.30,246.22 L559.80,246.17 L560.30,246.25 L560.80,245.99 L561.30,246.14 L561.80,245.90 L562.30,245.93 L562.80,245.82 L563.30,245.99 L563.80,245.85 L564.30,245.98 L564.80,245.74 L565.30,245.70 L565.80,245.64 L566.30,245.43 L566.80,245.42 L567.30,245.51 L567.80,245.27 L568.30,245.27 L568.80,245.20 L569.30,245.20 L569.80,245.05 L570.30,245.01 L570.80,245.00 L571.30,244.92 L571.80,244.76 L572.30,244.87 L572.80,244.57 L573.30,244.50 L573.80,244.40 L574.30,244.53 L574.80,244.29 L575.30,244.12 L575.80,243.97 L576.30,243.99 L576.80,243.69 L577.30,243.39 L577.80,243.09 L578.30,242.30 L578.80,241.74 L579.30,241.16 L579.80,240.61 L580.30,240.35 L580.80,240.46 L581.30,240.56 L581.80,241.00 L582.30,241.59 L582.80,242.44 L583.30,243.05 L583.80,243.59 L584.30,243.75 L584.80,243.75 L585.30,243.71 L585.80,243.72 L586.30,243.76 L586.80,243.67 L587.30,243.68 L587.80,243.82 L588.30,243.63 L588.80,243.37 L589.30,243.64 L589.80,243.45 L590.30,243.26 L590.80,243.38 L591.30,243.19 L591.80,242.98 L592.30,242.79 L592.80,242.54 L593.30,242.41 L593.80,242.27 L594.30,241.88 L594.80,241.71 L595.30,241.63 L595.80,241.11 L596.30,241.08 L596.80,240.89 L597.30,240.73 L597.80,240.70 L598.30,240.89 L598.80,241.19 L599.30,241.45 L599.80,241.92 L600.30,242.42 L600.80,242.78 L601.30,243.16 L601.80,243.31 L602.30,243.35 L602.80,243.48 L603.30,243.34 L603.80,243.27 L604.30,243.30 L604.80,243.09 L605.30,243.11 L605.80,243.17 L606.30,243.09 L606.80,243.11 L607.30,242.88 L607.80,242.65 L608.30,242.90 L608.80,242.71 L609.30,242.39 L609.80,242.52 L610.30,242.26 L610.80,241.95 L611.30,241.89 L611.80,241.54 L612.30,241.28 L612.80,240.46 L613.30,239.85 L613.80,239.13 L614.30,238.37 L614.80,237.54 L615.30,236.49 L615.80,235.22 L616.30,234.09 L616.80,233.62 L617.30,234.10 L617.80,235.25 L618.30,236.45 L618.80,237.77 L619.30,238.74 L619.80,239.70 L620.30,239.85 L620.80,239.91 L621.30,240.32 L621.80,240.57 L622.30,240.38 L622.80,240.73 L623.30,240.88 L623.80,241.11 L624.30,241.13 L624.80,241.19 L625.30,241.26 L625.80,241.48 L626.30,241.52 L626.80,241.25 L627.30,241.21 L627.80,241.57 L628.30,241.20 L628.80,241.24 L629.30,241.30 L629.80,241.35 L630.30,241.40 L630.80,241.34 L631.30,241.21 L631.80,241.35 L632.30,241.32 L632.80,241.49 L633.30,241.30 L633.80,241.17 L634.30,241.20 L634.80,241.45 L635.30,241.25 L635.80,241.09 L636.30,241.24 L636.80,241.30 L637.30,241.42 L637.80,241.20 L638.30,241.37 L638.80,241.38 L639.30,241.23 L639.80,241.28 L640.30,241.48 L640.80,241.47 L641.30,241.37 L641.80,241.30 L642.30,241.36 L642.80,241.21 L643.30,241.19 L643.80,241.08 L644.30,241.13 L644.80,241.08 L645.30,241.33 L645.80,240.98 L646.30,241.08 L646.80,241.03 L647.30,240.83 L647.80,240.91 L648.30,240.51 L648.80,240.68 L649.30,240.69 L649.80,240.30 L650.30,240.36 L650.80,240.52 L651.30,240.32 L651.80,240.16 L652.30,240.16 L652.80,240.08 L653.30,240.13 L653.80,240.03 L654.30,239.89 L654.80,239.78 L655.30,239.77 L655.80,239.84 L656.30,239.67 L656.80,239.63 L657.30,239.48 L657.80,239.30 L658.30,239.29 L658.80,239.36 L659.30,239.25 L659.80,239.09 L660.30,238.96 L660.80,239.07 L661.30,238.98 L661.80,238.93 L662.30,238.88 L662.80,238.90 L663.30,238.86 L663.80,238.89 L664.30,238.85 L664.80,238.86 L665.30,238.78 L665.80,238.64 L666.30,238.65 L666.80,238.68 L667.30,238.58 L667.80,238.64 L668.30,238.68 L668.80,238.46 L669.30,238.35 L669.80,238.62 L670.30,238.49 L670.80,238.54 L671.30,238.31 L671.80,238.60 L672.30,238.49 L672.80,238.38 L673.30,238.34 L673.80,238.37 L674.30,238.33 L674.80,238.30 L675.30,238.20 L675.80,238.42 L676.30,238.28 L676.80,238.27 L677.30,238.26 L677.80,238.00 L678.30,238.28 L678.80,238.18 L679.30,238.17 L679.80,238.19 L680.30,238.07 L680.80,238.24 L681.30,238.07 L681.80,238.04 L682.30,238.03 L682.80,238.12 L683.30,238.17 L683.80,238.02 L684.30,237.92 L684.80,238.16 L685.30,237.94 L685.80,238.15 L686.30,238.01 L686.80,237.94 L687.30,237.93 L687.80,238.03 L688.30,238.06 L688.80,237.94 L689.30,238.04 L689.80,238.14 L690.30,237.90 L690.80,237.79 L691.30,237.79 L691.80,237.74 L692.30,237.80 L692.80,237.78 L693.30,237.71 L693.80,237.88 L694.30,237.55 L694.80,237.67 L695.30,237.99 L695.80,237.88 L696.30,237.81 L696.80,237.79 L697.30,237.90 L697.80,237.77 L698.30,237.70 L698.80,237.56 L699.30,237.66 L699.80,237.58 L700.30,237.56 L700.80,237.55 L701.30,237.60 L701.80,237.55 L702.30,237.66 L702.80,237.42 L703.30,237.52 L703.80,237.71 L704.30,237.51 L704.80,237.61 L705.30,237.59 L705.80,237.59 L706.30,237.52 L706.80,237.29 L707.30,237.38 L707.80,237.36 L708.30,237.22 L708.80,237.32 L709.30,237.22 L709.80,237.16 L710.30,237.34 L710.80,237.29 L711.30,237.21 L711.80,237.17 L712.30,237.20 L712.80,237.19 L713.30,237.18 L713.80,237.20 L714.30,237.14 L714.80,237.21 L715.30,237.21 L715.80,237.17 L716.30,237.05 L716.80,237.04 L717.30,237.13 L717.80,237.05 L718.30,237.05 L718.80,236.79 L719.30,236.75 L719.80,237.04 L720.30,237.02 L720.80,237.11 L721.30,237.03 L721.80,236.96 L722.30,236.93 L722.80,236.77 L723.30,236.98 L723.80,236.81 L724.30,236.91 L724.80,236.86 L725.30,236.85 L725.80,236.90 L726.30,236.74 L726.80,236.74 L727.30,236.67 L727.80,236.71 L728.30,236.89 L728.80,236.67 L729.30,236.81 L729.80,236.76 L730.30,236.73 L730.80,236.72 L731.30,236.52 L731.80,236.65 L732.30,236.75 L732.80,236.51 L733.30,236.55 L733.80,236.47 L734.30,236.56 L734.80,236.40 L735.30,236.65 L735.80,236.44 L736.30,236.30 L736.80,236.62 L737.30,236.52 L737.80,236.46 L738.30,236.44 L738.80,236.34 L739.30,236.33 L739.80,236.41 L740.30,236.41 L740.80,236.40 L741.30,236.31 L741.80,236.23 L742.30,236.24 L742.80,236.35 L743.30,236.36 L743.80,236.17 L743.90,236.15" stroke="#1212ee" stroke-width="1.8"/>
<path d="M535.30,335.44 L535.80,335.37 L536.30,335.38 L536.80,335.29 L537.30,335.14 L537.80,334.77 L538.30,334.35 L538.80,333.86 L539.30,333.41 L539.80,332.80 L540.30,330.58 L540.80,318.30 L541.30,303.03 L541.80,289.95 L542.30,275.29 L542.80,264.58 L543.30,263.60 L543.80,272.55 L544.30,285.43 L544.80,300.32 L545.30,317.91 L545.80,326.63 L546.30,329.55 L546.80,331.66 L547.30,333.04 L547.80,333.49 L548.30,333.41 L548.80,333.63 L549.30,333.66 L549.80,333.81 L550.30,333.80 L550.80,333.97 L551.30,334.02 L551.80,334.04 L552.30,334.02 L552.80,334.10 L553.30,334.07 L553.80,334.07 L554.30,334.21 L554.80,334.11 L555.30,334.29 L555.80,334.26 L556.30,334.04 L556.80,334.22 L557.30,334.11 L557.80,334.19 L558.30,334.19 L558.80,334.02 L559.30,334.16 L559.80,334.15 L560.30,334.24 L560.80,334.06 L561.30,334.20 L561.80,334.04 L562.30,334.09 L562.80,334.04 L563.30,334.21 L563.80,334.13 L564.30,334.26 L564.80,334.10 L565.30,334.10 L565.80,334.08 L566.30,333.94 L566.80,333.97 L567.30,334.06 L567.80,333.89 L568.30,333.92 L568.80,333.87 L569.30,333.90 L569.80,333.79 L570.30,333.78 L570.80,333.78 L571.30,333.73 L571.80,333.62 L572.30,333.73 L572.80,333.52 L573.30,333.49 L573.80,333.44 L574.30,333.58 L574.80,333.43 L575.30,333.34 L575.80,333.26 L576.30,333.18 L576.80,332.77 L577.30,332.37 L577.80,332.11 L578.30,331.53 L578.80,331.19 L579.30,330.86 L579.80,330.55 L580.30,330.42 L580.80,330.53 L581.30,330.63 L581.80,331.01 L582.30,331.52 L582.80,332.24 L583.30,332.76 L583.80,333.22 L584.30,333.36 L584.80,333.36 L585.30,333.34 L585.80,333.35 L586.30,333.40 L586.80,333.35 L587.30,333.37 L587.80,333.50 L588.30,333.37 L588.80,333.19 L589.30,333.43 L589.80,333.30 L590.30,333.17 L590.80,333.29 L591.30,333.18 L591.80,333.10 L592.30,333.06 L592.80,332.99 L593.30,333.03 L593.80,333.06 L594.30,332.90 L594.80,332.85 L595.30,332.63 L595.80,331.89 L596.30,331.46 L596.80,330.90 L597.30,330.46 L597.80,330.32 L598.30,330.51 L598.80,330.85 L599.30,331.20 L599.80,331.75 L600.30,332.32 L600.80,332.77 L601.30,333.20 L601.80,333.40 L602.30,333.44 L602.80,333.54 L603.30,333.42 L603.80,333.36 L604.30,333.37 L604.80,333.20 L605.30,333.19 L605.80,333.22 L606.30,333.13 L606.80,333.12 L607.30,332.91 L607.80,332.68 L608.30,332.84 L608.80,332.65 L609.30,332.34 L609.80,332.38 L610.30,332.12 L610.80,331.80 L611.30,331.73 L611.80,331.52 L612.30,331.47 L612.80,330.72 L613.30,329.86 L613.80,328.79 L614.30,327.75 L614.80,326.88 L615.30,326.15 L615.80,325.43 L616.30,324.82 L616.80,324.54 L617.30,325.00 L617.80,326.07 L618.30,327.25 L618.80,328.55 L619.30,329.57 L619.80,330.56 L620.30,330.88 L620.80,331.11 L621.30,331.62 L621.80,331.98 L622.30,331.98 L622.80,332.37 L623.30,332.59 L623.80,332.82 L624.30,332.86 L624.80,332.88 L625.30,332.90 L625.80,333.05 L626.30,333.07 L626.80,332.86 L627.30,332.83 L627.80,333.12 L628.30,332.82 L628.80,332.85 L629.30,332.90 L629.80,332.94 L630.30,332.98 L630.80,332.93 L631.30,332.83 L631.80,332.94 L632.30,332.92 L632.80,333.05 L633.30,332.90 L633.80,332.79 L634.30,332.82 L634.80,333.02 L635.30,332.86 L635.80,332.73 L636.30,332.85 L636.80,332.90 L637.30,333.00 L637.80,332.82 L638.30,332.95 L638.80,332.96 L639.30,332.84 L639.80,332.88 L640.30,333.04 L640.80,333.04 L641.30,332.97 L641.80,332.92 L642.30,332.98 L642.80,332.88 L643.30,332.88 L643.80,332.81 L644.30,332.88 L644.80,332.87 L645.30,333.09 L645.80,332.85 L646.30,332.96 L646.80,332.95 L647.30,332.82 L647.80,332.92 L648.30,332.65 L648.80,332.82 L649.30,332.87 L649.80,332.60 L650.30,332.69 L650.80,332.86 L651.30,332.74 L651.80,332.66 L652.30,332.71 L652.80,332.68 L653.30,332.77 L653.80,332.74 L654.30,332.67 L654.80,332.62 L655.30,332.66 L655.80,332.75 L656.30,332.66 L656.80,332.67 L657.30,332.59 L657.80,332.49 L658.30,332.52 L658.80,332.61 L659.30,332.55 L659.80,332.46 L660.30,332.38 L660.80,332.50 L661.30,332.45 L661.80,332.44 L662.30,332.42 L662.80,332.45 L663.30,332.44 L663.80,332.48 L664.30,332.46 L664.80,332.47 L665.30,332.41 L665.80,332.31 L666.30,332.31 L666.80,332.34 L667.30,332.26 L667.80,332.31 L668.30,332.34 L668.80,332.17 L669.30,332.07 L669.80,332.29 L670.30,332.18 L670.80,332.22 L671.30,332.04 L671.80,332.27 L672.30,332.18 L672.80,332.09 L673.30,332.06 L673.80,332.08 L674.30,332.04 L674.80,332.02 L675.30,331.94 L675.80,332.11 L676.30,331.99 L676.80,331.99 L677.30,331.98 L677.80,331.77 L678.30,331.99 L678.80,331.90 L679.30,331.89 L679.80,331.91 L680.30,331.81 L680.80,331.95 L681.30,331.81 L681.80,331.78 L682.30,331.78 L682.80,331.84 L683.30,331.88 L683.80,331.76 L684.30,331.68 L684.80,331.87 L685.30,331.69 L685.80,331.86 L686.30,331.74 L686.80,331.68 L687.30,331.67 L687.80,331.75 L688.30,331.77 L688.80,331.67 L689.30,331.75 L689.80,331.83 L690.30,331.63 L690.80,331.55 L691.30,331.54 L691.80,331.50 L692.30,331.55 L692.80,331.53 L693.30,331.47 L693.80,331.61 L694.30,331.35 L694.80,331.44 L695.30,331.69 L695.80,331.60 L696.30,331.55 L696.80,331.53 L697.30,331.63 L697.80,331.51 L698.30,331.47 L698.80,331.35 L699.30,331.43 L699.80,331.37 L700.30,331.36 L700.80,331.34 L701.30,331.38 L701.80,331.35 L702.30,331.43 L702.80,331.25 L703.30,331.33 L703.80,331.48 L704.30,331.32 L704.80,331.40 L705.30,331.38 L705.80,331.39 L706.30,331.33 L706.80,331.15 L707.30,331.22 L707.80,331.20 L708.30,331.10 L708.80,331.17 L709.30,331.10 L709.80,331.05 L710.30,331.19 L710.80,331.16 L711.30,331.10 L711.80,331.06 L712.30,331.08 L712.80,331.08 L713.30,331.07 L713.80,331.09 L714.30,331.05 L714.80,331.10 L715.30,331.10 L715.80,331.07 L716.30,330.98 L716.80,330.97 L717.30,331.05 L717.80,330.98 L718.30,330.98 L718.80,330.78 L719.30,330.75 L719.80,330.98 L720.30,330.97 L720.80,331.04 L721.30,330.98 L721.80,330.92 L722.30,330.90 L722.80,330.77 L723.30,330.94 L723.80,330.81 L724.30,330.89 L724.80,330.85 L725.30,330.85 L725.80,330.88 L726.30,330.76 L726.80,330.76 L727.30,330.71 L727.80,330.74 L728.30,330.89 L728.80,330.71 L729.30,330.83 L729.80,330.79 L730.30,330.77 L730.80,330.76 L731.30,330.61 L731.80,330.70 L732.30,330.79 L732.80,330.60 L733.30,330.64 L733.80,330.57 L734.30,330.64 L734.80,330.52 L735.30,330.72 L735.80,330.55 L736.30,330.45 L736.80,330.70 L737.30,330.63 L737.80,330.58 L738.30,330.57 L738.80,330.49 L739.30,330.49 L739.80,330.55 L740.30,330.55 L740.80,330.54 L741.30,330.48 L741.80,330.41 L742.30,330.42 L742.80,330.51 L743.30,330.53 L743.80,330.37 L743.90,330.36" stroke="#141414" stroke-width="1.5"/>
</g>
<line x1="550.30" y1="40.40" x2="550.30" y2="153.30" stroke="#1f8f94" stroke-width="1.6" stroke-dasharray="1.6 1.3"/>
<line x1="564.00" y1="16.50" x2="564.00" y2="129.20" stroke="#1f8f94" stroke-width="1.6" stroke-dasharray="1.6 1.3"/>
<line x1="588.00" y1="21.30" x2="588.00" y2="131.80" stroke="#1f8f94" stroke-width="1.6" stroke-dasharray="1.6 1.3"/>
<line x1="626.60" y1="18.20" x2="626.60" y2="130.00" stroke="#1f8f94" stroke-width="1.6" stroke-dasharray="1.6 1.3"/>
<line x1="656.50" y1="12.70" x2="656.50" y2="148.20" stroke="#1f8f94" stroke-width="1.6" stroke-dasharray="1.6 1.3"/>
<line x1="543.10" y1="107.80" x2="543.10" y2="340.00" stroke="#1f8f94" stroke-width="1.6" stroke-dasharray="1.6 1.3"/>
<line x1="580.60" y1="226.00" x2="580.60" y2="340.00" stroke="#1f8f94" stroke-width="1.6" stroke-dasharray="1.6 1.3"/>
<line x1="597.80" y1="228.70" x2="597.80" y2="340.00" stroke="#1f8f94" stroke-width="1.6" stroke-dasharray="1.6 1.3"/>
<line x1="616.70" y1="226.00" x2="616.70" y2="340.00" stroke="#1f8f94" stroke-width="1.6" stroke-dasharray="1.6 1.3"/>
<rect x="534.8" y="10.4" width="209.60" height="330.10" fill="none" stroke="#000" stroke-width="1.75"/>
<line x1="534.80" y1="93.10" x2="744.40" y2="93.10" stroke="#000" stroke-width="1.75"/>
<line x1="534.80" y1="175.80" x2="744.40" y2="175.80" stroke="#000" stroke-width="1.75"/>
<line x1="534.80" y1="258.10" x2="744.40" y2="258.10" stroke="#000" stroke-width="1.75"/>
<line x1="545.02" y1="340.50" x2="545.02" y2="338.30" stroke="#141414" stroke-width="1.3"/>
<line x1="567.10" y1="340.50" x2="567.10" y2="336.50" stroke="#141414" stroke-width="1.3"/>
<line x1="589.18" y1="340.50" x2="589.18" y2="338.30" stroke="#141414" stroke-width="1.3"/>
<line x1="611.25" y1="340.50" x2="611.25" y2="336.50" stroke="#141414" stroke-width="1.3"/>
<line x1="633.33" y1="340.50" x2="633.33" y2="338.30" stroke="#141414" stroke-width="1.3"/>
<line x1="655.40" y1="340.50" x2="655.40" y2="336.50" stroke="#141414" stroke-width="1.3"/>
<line x1="677.48" y1="340.50" x2="677.48" y2="338.30" stroke="#141414" stroke-width="1.3"/>
<line x1="699.55" y1="340.50" x2="699.55" y2="336.50" stroke="#141414" stroke-width="1.3"/>
<line x1="721.63" y1="340.50" x2="721.63" y2="338.30" stroke="#141414" stroke-width="1.3"/>
<text transform="translate(567.10,355.10) scale(1.000,1)" font-size="11.60" font-weight="bold" fill="#141414" text-anchor="middle">300</text>
<text transform="translate(611.25,355.10) scale(1.000,1)" font-size="11.60" font-weight="bold" fill="#141414" text-anchor="middle">600</text>
<text transform="translate(655.40,355.10) scale(1.000,1)" font-size="11.60" font-weight="bold" fill="#141414" text-anchor="middle">900</text>
<text transform="translate(699.55,355.10) scale(1.000,1)" font-size="11.60" font-weight="bold" fill="#141414" text-anchor="middle">1200</text>
<text transform="translate(743.70,355.10) scale(1.000,1)" font-size="11.60" font-weight="bold" fill="#141414" text-anchor="middle">1500</text>
<text transform="translate(713.30,47.89) scale(1.026,1)" font-size="11.16" font-weight="bold" fill="#f7860f">96 h</text>
<text transform="translate(714.35,114.59) scale(1.069,1)" font-size="11.02" font-weight="bold" fill="#17801a">54 h</text>
<text transform="translate(715.10,213.29) scale(1.033,1)" font-size="11.43" font-weight="bold" fill="#1212ee">36 h</text>
<text transform="translate(717.60,279.00) scale(1.012,1)" font-size="11.31" font-weight="bold" fill="#141414">24 h</text>
<text transform="translate(510.86,16.91) scale(0.850,1)" font-size="19.47" font-weight="bold" fill="#ee1c24" stroke="#ee1c24" stroke-width="0.3">(</text>
<text transform="translate(517.91,17.03) scale(0.859,1)" font-size="17.27" font-weight="bold" fill="#ee1c24" stroke="#ee1c24" stroke-width="0.35">c</text>
<text transform="translate(527.54,16.91) scale(0.850,1)" font-size="19.47" font-weight="bold" fill="#ee1c24" stroke="#ee1c24" stroke-width="0.3">)</text>
<text transform="translate(525.07,225.76) rotate(-90) scale(1.099,1)" font-size="16.30" fill="#141414"><tspan font-weight="bold">Intensity </tspan><tspan font-weight="normal">(</tspan><tspan font-weight="bold">a.u.</tspan><tspan font-weight="normal">)</tspan></text>
<text transform="translate(566.17,372.74) scale(1.076,1)" font-size="16.19" font-weight="bold" fill="#141414">Raman shift</text>
<text transform="translate(670.78,372.89) scale(1.288,1)" font-size="6.74" font-weight="normal" fill="#141414" stroke="#141414" stroke-width="0.35">(</text>
<text transform="translate(674.99,372.66) scale(1.237,1)" font-size="14.36" font-weight="bold" fill="#141414">cm</text>
<text transform="translate(700.98,368.70) scale(0.652,1)" font-size="12.46" font-weight="bold" fill="#141414">-1</text>
<text transform="translate(709.95,373.28) scale(0.855,1)" font-size="10.59" font-weight="normal" fill="#141414" stroke="#141414" stroke-width="0.35">)</text>
</svg>
</body></html>
